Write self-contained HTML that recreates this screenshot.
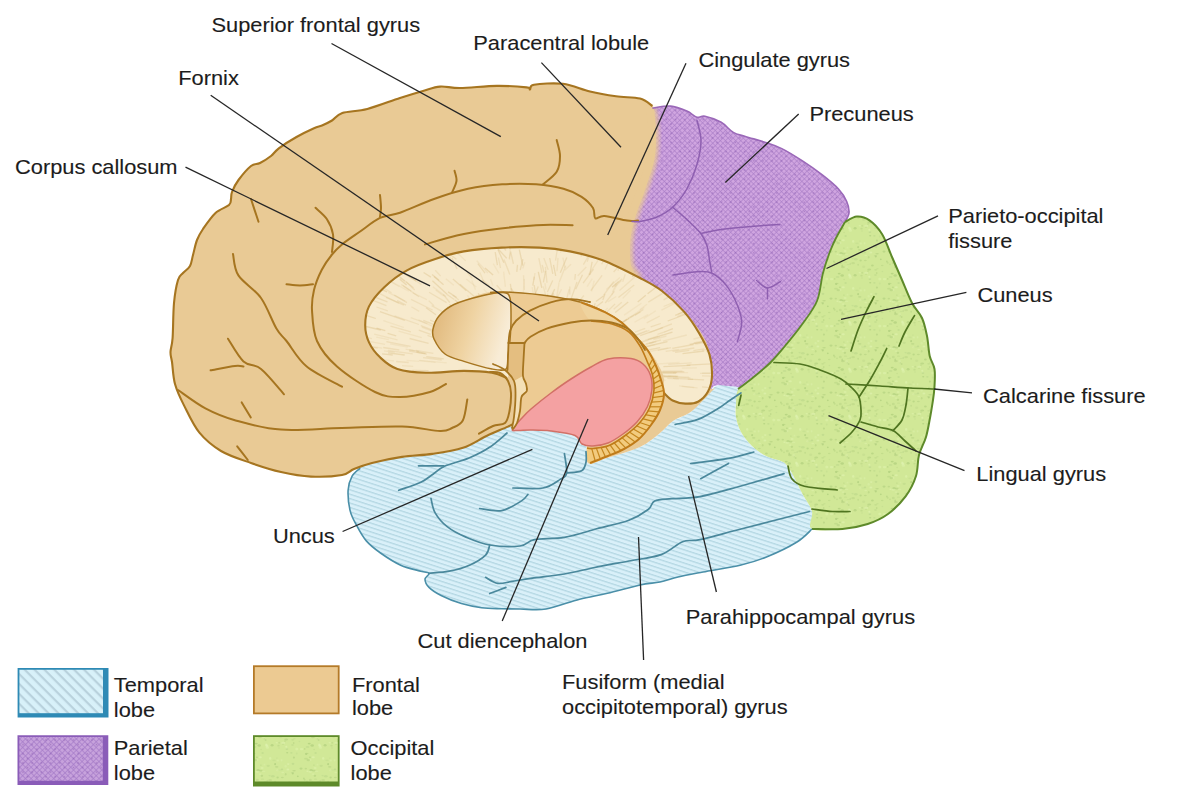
<!DOCTYPE html>
<html><head><meta charset="utf-8"><style>
html,body{margin:0;padding:0;background:#fff;width:1189px;height:791px;overflow:hidden}
svg{display:block}
text{font-family:"Liberation Sans",sans-serif;font-size:21px;fill:#1c1c1c;stroke:#1c1c1c;stroke-width:0.12px}
</style></head><body>
<svg width="1189" height="791" viewBox="0 0 1189 791">
<defs>
<pattern id="bh" patternUnits="userSpaceOnUse" width="4.2" height="4.2" patternTransform="rotate(18)"><rect width="4.2" height="4.2" fill="#D9F0F9"/><rect y="0" width="4.2" height="1.3" fill="#B4D7E3"/></pattern>
<pattern id="bhl" patternUnits="userSpaceOnUse" width="7" height="7" patternTransform="rotate(45)"><rect width="7" height="7" fill="#D8F1F9"/><rect y="0" width="7" height="2.2" fill="#B9D2DD"/></pattern>
<pattern id="phl" patternUnits="userSpaceOnUse" width="4" height="4" patternTransform="rotate(45)"><rect width="4" height="4" fill="#C7A2DC"/><rect width="4" height="1" fill="#A67CC8" opacity="0.7"/><rect width="1" height="4" fill="#A67CC8" opacity="0.7"/></pattern>
<pattern id="ph" patternUnits="userSpaceOnUse" width="3.6" height="3.6" patternTransform="rotate(45)"><rect width="3.6" height="3.6" fill="#D0A5E0"/><rect width="3.6" height="0.9" fill="#A87CC6" opacity="0.65"/><rect width="0.9" height="3.6" fill="#A87CC6" opacity="0.65"/></pattern>
<linearGradient id="ovg" x1="0" y1="0" x2="1" y2="0.3"><stop offset="0" stop-color="#DDB273"/><stop offset="0.55" stop-color="#EFD3A2"/><stop offset="1" stop-color="#F8ECD6"/></linearGradient>
<clipPath id="ccclip"><path d="M507.0,378.0 C504.7,378.3 499.2,374.0 492.0,372.8 C484.8,371.6 475.0,370.9 464.0,370.9 C453.0,370.9 437.1,373.1 426.0,372.8 C414.9,372.5 405.0,371.5 397.4,369.0 C389.8,366.5 385.0,362.0 380.3,357.6 C375.6,353.2 371.5,347.8 369.0,342.4 C366.5,337.0 365.2,331.3 365.2,325.3 C365.2,319.3 365.9,312.7 369.0,306.4 C372.1,300.1 377.7,293.4 384.0,287.4 C390.3,281.4 398.4,275.0 407.0,270.3 C415.6,265.6 425.8,262.1 435.3,259.0 C444.8,255.8 452.7,253.3 463.8,251.4 C474.9,249.5 489.1,248.2 501.7,247.6 C514.3,247.0 528.2,247.0 539.6,247.6 C551.0,248.2 559.6,249.3 570.0,251.4 C580.4,253.5 590.3,255.6 602.0,260.0 C613.7,264.4 630.0,272.8 640.0,278.0 C650.0,283.2 654.7,285.4 662.0,291.0 C669.3,296.6 677.8,304.6 684.0,311.6 C690.2,318.6 694.8,325.8 699.0,333.0 C703.2,340.2 707.3,347.4 709.5,354.6 C711.7,361.8 712.2,369.8 712.0,376.0 C711.8,382.2 710.3,387.3 708.0,391.6 C705.7,395.9 701.8,399.7 698.0,401.7 C694.2,403.7 689.5,403.8 685.3,403.6 C681.1,403.4 676.2,402.3 672.6,400.5 C669.0,398.7 665.2,396.3 663.8,392.9 C662.4,389.5 664.5,383.8 664.0,380.0 C663.5,376.2 663.3,374.7 661.0,370.0 C658.7,365.3 654.2,357.3 650.0,352.0 C645.8,346.7 640.7,342.8 636.0,338.0 C631.3,333.2 627.2,327.3 622.0,323.0 C616.8,318.7 611.8,315.5 605.0,312.0 C598.2,308.5 590.0,304.7 581.0,302.0 C572.0,299.3 562.7,297.7 551.0,296.0 C539.3,294.3 521.2,292.7 511.0,292.0 C500.8,291.3 496.8,291.0 490.0,292.0 C483.2,293.0 476.0,295.9 470.0,298.0 C464.0,300.1 459.2,301.5 454.0,304.5 C448.8,307.5 442.5,311.9 439.0,316.0 C435.5,320.1 433.8,325.2 433.0,329.0 C432.2,332.8 432.0,334.8 434.0,339.0 C436.0,343.2 440.0,350.3 445.0,354.0 C450.0,357.7 456.2,358.5 464.0,361.0 C471.8,363.5 485.0,367.3 492.0,369.0 C499.0,370.7 503.5,369.5 506.0,371.0 C508.5,372.5 509.3,377.7 507.0,378.0Z"/></clipPath>
<clipPath id="gclip"><path d="M845.0,222.0 C848.5,218.4 852.7,216.9 856.8,216.6 C860.9,216.3 865.3,217.5 869.5,220.4 C873.7,223.3 878.2,227.9 882.0,234.0 C885.8,240.1 888.7,249.3 892.0,257.0 C895.3,264.7 898.7,272.3 902.0,280.0 C905.3,287.7 908.7,296.7 912.0,303.0 C915.3,309.3 919.5,312.5 922.0,318.0 C924.5,323.5 925.7,329.7 927.0,336.0 C928.3,342.3 928.5,350.5 929.7,356.0 C931.0,361.5 933.7,363.9 934.5,369.0 C935.3,374.1 934.8,381.3 934.5,386.5 C934.2,391.7 933.8,394.8 933.0,400.0 C932.2,405.2 931.2,411.8 930.0,418.0 C928.8,424.2 927.8,430.8 926.0,437.0 C924.2,443.2 920.7,448.5 919.0,455.0 C917.3,461.5 918.2,469.1 916.0,476.0 C913.8,482.9 910.3,490.1 905.6,496.4 C900.9,502.7 894.3,509.4 888.0,514.0 C881.7,518.6 875.3,521.5 867.7,524.0 C860.1,526.5 851.7,528.2 842.4,529.0 C833.1,529.8 817.1,531.9 812.0,529.0 C806.9,526.1 813.5,517.2 812.0,511.5 C810.5,505.8 805.7,500.1 803.0,495.0 C800.3,489.9 798.2,485.2 796.0,481.0 C793.8,476.8 792.2,473.2 790.0,470.0 C787.8,466.8 787.0,464.3 783.0,462.0 C779.0,459.7 771.2,458.7 766.0,456.0 C760.8,453.3 756.2,450.0 752.0,446.0 C747.8,442.0 743.7,436.8 741.0,432.0 C738.3,427.2 736.8,421.7 736.0,417.0 C735.2,412.3 735.7,408.5 736.0,404.0 C736.3,399.5 735.7,394.0 738.0,390.0 C740.3,386.0 744.7,384.5 750.0,380.0 C755.3,375.5 764.2,368.7 770.0,363.0 C775.8,357.3 779.7,352.4 785.0,346.0 C790.3,339.6 796.7,332.0 802.0,324.5 C807.3,317.0 813.5,309.6 817.0,301.0 C820.5,292.4 820.8,281.2 823.0,273.0 C825.2,264.8 827.8,257.3 830.0,251.5 C832.2,245.7 833.5,242.9 836.0,238.0 C838.5,233.1 841.5,225.6 845.0,222.0Z"/></clipPath>
<filter id="soft" x="-20%" y="-20%" width="140%" height="140%"><feGaussianBlur stdDeviation="2"/></filter>
<pattern id="gsp" patternUnits="userSpaceOnUse" width="53" height="47"><rect width="53" height="47" fill="#D1E897"/><ellipse cx="12.6" cy="25.6" rx="1.2" ry="1.0" fill="#A9C977" opacity="0.51"/><ellipse cx="48.2" cy="22.1" rx="1.5" ry="0.7" fill="#E0F3B0" opacity="0.49"/><ellipse cx="29.1" cy="18.7" rx="1.8" ry="0.8" fill="#B3D07F" opacity="0.60"/><ellipse cx="27.7" cy="34.8" rx="1.6" ry="0.6" fill="#A9C977" opacity="0.41"/><ellipse cx="1.6" cy="40.7" rx="1.4" ry="1.1" fill="#E0F3B0" opacity="0.55"/><ellipse cx="54.6" cy="40.7" rx="1.4" ry="1.1" fill="#E0F3B0" opacity="0.55"/><ellipse cx="48.8" cy="18.6" rx="1.8" ry="0.9" fill="#B3D07F" opacity="0.61"/><ellipse cx="5.2" cy="6.4" rx="1.1" ry="1.3" fill="#E0F3B0" opacity="0.57"/><ellipse cx="45.3" cy="19.8" rx="1.8" ry="1.0" fill="#E0F3B0" opacity="0.50"/><ellipse cx="47.9" cy="32.1" rx="1.9" ry="1.2" fill="#B3D07F" opacity="0.54"/><ellipse cx="17.3" cy="25.5" rx="1.5" ry="0.7" fill="#B3D07F" opacity="0.52"/><ellipse cx="-0.6" cy="12.6" rx="0.9" ry="0.9" fill="#E0F3B0" opacity="0.33"/><ellipse cx="52.4" cy="12.6" rx="0.9" ry="0.9" fill="#E0F3B0" opacity="0.33"/><ellipse cx="42.4" cy="19.3" rx="1.0" ry="0.8" fill="#E0F3B0" opacity="0.61"/><ellipse cx="2.3" cy="28.9" rx="0.9" ry="1.1" fill="#B9D588" opacity="0.49"/><ellipse cx="55.3" cy="28.9" rx="0.9" ry="1.1" fill="#B9D588" opacity="0.49"/><ellipse cx="48.9" cy="13.1" rx="1.1" ry="0.6" fill="#A9C977" opacity="0.33"/><ellipse cx="31.8" cy="1.5" rx="1.0" ry="0.9" fill="#B9D588" opacity="0.35"/><ellipse cx="31.8" cy="48.5" rx="1.0" ry="0.9" fill="#B9D588" opacity="0.35"/><ellipse cx="2.2" cy="40.8" rx="1.2" ry="1.3" fill="#E0F3B0" opacity="0.43"/><ellipse cx="55.2" cy="40.8" rx="1.2" ry="1.3" fill="#E0F3B0" opacity="0.43"/><ellipse cx="46.1" cy="18.2" rx="1.8" ry="1.1" fill="#A9C977" opacity="0.52"/><ellipse cx="49.9" cy="23.8" rx="1.3" ry="1.1" fill="#B3D07F" opacity="0.63"/><ellipse cx="23.2" cy="12.1" rx="1.2" ry="0.8" fill="#E0F3B0" opacity="0.65"/><ellipse cx="16.7" cy="17.7" rx="1.5" ry="0.7" fill="#B9D588" opacity="0.46"/><ellipse cx="36.0" cy="16.6" rx="1.6" ry="1.1" fill="#A9C977" opacity="0.51"/><ellipse cx="-2.4" cy="1.0" rx="1.2" ry="1.0" fill="#B9D588" opacity="0.51"/><ellipse cx="-2.4" cy="48.0" rx="1.2" ry="1.0" fill="#B9D588" opacity="0.51"/><ellipse cx="50.6" cy="1.0" rx="1.2" ry="1.0" fill="#B9D588" opacity="0.51"/><ellipse cx="50.6" cy="48.0" rx="1.2" ry="1.0" fill="#B9D588" opacity="0.51"/><ellipse cx="17.0" cy="17.1" rx="1.2" ry="0.9" fill="#B9D588" opacity="0.41"/><ellipse cx="20.0" cy="36.3" rx="0.8" ry="1.0" fill="#B3D07F" opacity="0.41"/><ellipse cx="11.8" cy="37.8" rx="1.1" ry="0.7" fill="#E0F3B0" opacity="0.53"/><ellipse cx="5.1" cy="28.2" rx="1.9" ry="1.1" fill="#B3D07F" opacity="0.45"/><ellipse cx="45.3" cy="8.0" rx="1.2" ry="1.1" fill="#E0F3B0" opacity="0.39"/><ellipse cx="41.7" cy="1.6" rx="1.9" ry="0.8" fill="#B3D07F" opacity="0.60"/><ellipse cx="41.7" cy="48.6" rx="1.9" ry="0.8" fill="#B3D07F" opacity="0.60"/><ellipse cx="18.0" cy="38.9" rx="0.9" ry="1.0" fill="#B3D07F" opacity="0.45"/><ellipse cx="27.5" cy="39.9" rx="1.4" ry="1.0" fill="#B9D588" opacity="0.45"/><ellipse cx="21.7" cy="43.3" rx="1.0" ry="0.6" fill="#E0F3B0" opacity="0.50"/><ellipse cx="-0.8" cy="33.7" rx="0.8" ry="0.9" fill="#B9D588" opacity="0.49"/><ellipse cx="52.2" cy="33.7" rx="0.8" ry="0.9" fill="#B9D588" opacity="0.49"/><ellipse cx="47.2" cy="40.5" rx="1.8" ry="1.3" fill="#A9C977" opacity="0.58"/><ellipse cx="2.4" cy="42.5" rx="1.6" ry="1.2" fill="#E0F3B0" opacity="0.50"/><ellipse cx="55.4" cy="42.5" rx="1.6" ry="1.2" fill="#E0F3B0" opacity="0.50"/><ellipse cx="0.7" cy="35.0" rx="1.0" ry="0.8" fill="#A9C977" opacity="0.48"/><ellipse cx="53.7" cy="35.0" rx="1.0" ry="0.8" fill="#A9C977" opacity="0.48"/><ellipse cx="21.9" cy="-2.9" rx="1.5" ry="0.8" fill="#B9D588" opacity="0.64"/><ellipse cx="21.9" cy="44.1" rx="1.5" ry="0.8" fill="#B9D588" opacity="0.64"/><ellipse cx="28.7" cy="38.1" rx="0.9" ry="0.8" fill="#A9C977" opacity="0.49"/><ellipse cx="43.3" cy="8.1" rx="1.8" ry="1.2" fill="#B3D07F" opacity="0.59"/><ellipse cx="0.4" cy="29.5" rx="1.8" ry="0.6" fill="#B9D588" opacity="0.39"/><ellipse cx="53.4" cy="29.5" rx="1.8" ry="0.6" fill="#B9D588" opacity="0.39"/><ellipse cx="32.8" cy="24.4" rx="0.9" ry="0.8" fill="#A9C977" opacity="0.60"/><ellipse cx="41.1" cy="2.2" rx="0.9" ry="0.9" fill="#A9C977" opacity="0.60"/><ellipse cx="41.1" cy="49.2" rx="0.9" ry="0.9" fill="#A9C977" opacity="0.60"/><ellipse cx="4.6" cy="23.6" rx="1.2" ry="0.8" fill="#B9D588" opacity="0.44"/><ellipse cx="20.7" cy="14.3" rx="1.1" ry="1.3" fill="#E0F3B0" opacity="0.34"/><ellipse cx="29.4" cy="33.7" rx="1.3" ry="0.7" fill="#B3D07F" opacity="0.32"/><ellipse cx="24.4" cy="30.6" rx="1.4" ry="1.0" fill="#A9C977" opacity="0.52"/><ellipse cx="22.9" cy="17.5" rx="1.4" ry="1.1" fill="#E0F3B0" opacity="0.63"/><ellipse cx="22.2" cy="0.8" rx="1.1" ry="0.8" fill="#A9C977" opacity="0.58"/><ellipse cx="22.2" cy="47.8" rx="1.1" ry="0.8" fill="#A9C977" opacity="0.58"/><ellipse cx="11.9" cy="6.1" rx="0.8" ry="0.8" fill="#B9D588" opacity="0.34"/><ellipse cx="36.6" cy="-2.9" rx="1.7" ry="1.2" fill="#E0F3B0" opacity="0.53"/><ellipse cx="36.6" cy="44.1" rx="1.7" ry="1.2" fill="#E0F3B0" opacity="0.53"/><ellipse cx="38.9" cy="26.5" rx="0.9" ry="1.0" fill="#A9C977" opacity="0.47"/><ellipse cx="12.5" cy="18.3" rx="1.4" ry="1.0" fill="#E0F3B0" opacity="0.36"/><ellipse cx="1.2" cy="39.6" rx="0.9" ry="1.2" fill="#E0F3B0" opacity="0.59"/><ellipse cx="54.2" cy="39.6" rx="0.9" ry="1.2" fill="#E0F3B0" opacity="0.59"/><ellipse cx="-2.5" cy="27.2" rx="1.8" ry="0.6" fill="#B3D07F" opacity="0.34"/><ellipse cx="50.5" cy="27.2" rx="1.8" ry="0.6" fill="#B3D07F" opacity="0.34"/><ellipse cx="39.7" cy="43.9" rx="0.9" ry="0.8" fill="#B3D07F" opacity="0.59"/><ellipse cx="12.8" cy="8.4" rx="1.1" ry="1.0" fill="#E0F3B0" opacity="0.39"/><ellipse cx="31.8" cy="-2.9" rx="1.5" ry="1.3" fill="#E0F3B0" opacity="0.48"/><ellipse cx="31.8" cy="44.1" rx="1.5" ry="1.3" fill="#E0F3B0" opacity="0.48"/><ellipse cx="-1.4" cy="19.4" rx="1.7" ry="0.7" fill="#E0F3B0" opacity="0.35"/><ellipse cx="51.6" cy="19.4" rx="1.7" ry="0.7" fill="#E0F3B0" opacity="0.35"/><ellipse cx="21.3" cy="41.7" rx="1.0" ry="0.9" fill="#E0F3B0" opacity="0.62"/><ellipse cx="27.4" cy="20.8" rx="1.7" ry="0.7" fill="#B9D588" opacity="0.56"/><ellipse cx="7.8" cy="24.2" rx="1.9" ry="1.2" fill="#B9D588" opacity="0.53"/><ellipse cx="45.3" cy="28.0" rx="1.5" ry="1.3" fill="#B3D07F" opacity="0.41"/><ellipse cx="14.2" cy="37.8" rx="1.0" ry="1.0" fill="#B3D07F" opacity="0.41"/><ellipse cx="41.0" cy="6.7" rx="2.0" ry="0.9" fill="#B3D07F" opacity="0.46"/><ellipse cx="44.2" cy="38.6" rx="1.5" ry="0.9" fill="#A9C977" opacity="0.60"/><ellipse cx="21.2" cy="34.5" rx="2.0" ry="0.9" fill="#B3D07F" opacity="0.61"/><ellipse cx="34.4" cy="36.5" rx="0.9" ry="0.8" fill="#B9D588" opacity="0.38"/><ellipse cx="10.1" cy="12.2" rx="1.0" ry="1.1" fill="#A9C977" opacity="0.61"/><ellipse cx="13.5" cy="40.7" rx="1.2" ry="0.9" fill="#A9C977" opacity="0.34"/><ellipse cx="14.0" cy="42.9" rx="0.8" ry="0.9" fill="#B9D588" opacity="0.30"/><ellipse cx="17.7" cy="20.5" rx="1.4" ry="0.7" fill="#E0F3B0" opacity="0.44"/><ellipse cx="28.9" cy="5.6" rx="1.1" ry="1.1" fill="#A9C977" opacity="0.45"/><ellipse cx="28.0" cy="11.8" rx="1.4" ry="1.1" fill="#B9D588" opacity="0.57"/><ellipse cx="15.7" cy="31.8" rx="1.6" ry="1.2" fill="#B9D588" opacity="0.34"/><ellipse cx="-2.9" cy="15.9" rx="1.5" ry="1.0" fill="#E0F3B0" opacity="0.48"/><ellipse cx="50.1" cy="15.9" rx="1.5" ry="1.0" fill="#E0F3B0" opacity="0.48"/><ellipse cx="3.2" cy="13.8" rx="1.7" ry="1.1" fill="#B3D07F" opacity="0.36"/><ellipse cx="47.2" cy="30.8" rx="0.9" ry="1.3" fill="#B3D07F" opacity="0.62"/><ellipse cx="34.2" cy="30.5" rx="1.3" ry="0.8" fill="#B3D07F" opacity="0.46"/><ellipse cx="16.6" cy="8.3" rx="0.9" ry="1.1" fill="#E0F3B0" opacity="0.43"/><ellipse cx="14.1" cy="18.0" rx="1.8" ry="0.6" fill="#B9D588" opacity="0.39"/><ellipse cx="40.8" cy="16.6" rx="1.2" ry="0.9" fill="#A9C977" opacity="0.42"/><ellipse cx="44.9" cy="5.3" rx="1.1" ry="0.7" fill="#A9C977" opacity="0.50"/><ellipse cx="48.2" cy="5.3" rx="1.6" ry="1.0" fill="#E0F3B0" opacity="0.59"/><ellipse cx="39.7" cy="27.8" rx="1.0" ry="0.9" fill="#B3D07F" opacity="0.49"/><ellipse cx="9.0" cy="8.4" rx="1.8" ry="0.9" fill="#B9D588" opacity="0.31"/><ellipse cx="42.6" cy="41.9" rx="1.9" ry="0.9" fill="#B9D588" opacity="0.52"/><ellipse cx="-1.2" cy="32.3" rx="1.2" ry="1.2" fill="#E0F3B0" opacity="0.31"/><ellipse cx="51.8" cy="32.3" rx="1.2" ry="1.2" fill="#E0F3B0" opacity="0.31"/><ellipse cx="10.1" cy="29.8" rx="0.9" ry="1.1" fill="#B3D07F" opacity="0.47"/><ellipse cx="27.8" cy="21.6" rx="1.0" ry="1.0" fill="#A9C977" opacity="0.58"/><ellipse cx="49.1" cy="-2.5" rx="0.9" ry="0.8" fill="#B3D07F" opacity="0.35"/><ellipse cx="49.1" cy="44.5" rx="0.9" ry="0.8" fill="#B3D07F" opacity="0.35"/><ellipse cx="42.0" cy="29.3" rx="0.9" ry="0.9" fill="#B3D07F" opacity="0.48"/><ellipse cx="26.4" cy="0.9" rx="1.2" ry="0.8" fill="#B9D588" opacity="0.54"/><ellipse cx="26.4" cy="47.9" rx="1.2" ry="0.8" fill="#B9D588" opacity="0.54"/><ellipse cx="7.1" cy="40.3" rx="1.5" ry="1.2" fill="#A9C977" opacity="0.56"/><ellipse cx="18.2" cy="37.9" rx="1.9" ry="1.2" fill="#E0F3B0" opacity="0.54"/><ellipse cx="11.7" cy="14.8" rx="1.7" ry="0.9" fill="#B3D07F" opacity="0.55"/><ellipse cx="20.7" cy="22.2" rx="0.9" ry="1.2" fill="#B3D07F" opacity="0.53"/></pattern>
<pattern id="pdots" patternUnits="userSpaceOnUse" width="6.5" height="6.5" patternTransform="rotate(45)"><circle cx="3.25" cy="3.25" r="0.9" fill="#8A5AAE" opacity="0.55"/></pattern>
</defs>
<path d="M652.4,108.1 C659.2,107.1 664.9,105.6 670.6,106.1 C676.3,106.6 682.4,109.2 686.8,111.1 C691.2,112.9 693.9,116.3 696.9,117.2 C699.9,118.1 701.0,115.4 705.0,116.2 C709.0,117.0 716.5,119.6 721.2,122.3 C725.9,125.0 729.3,130.1 733.3,132.4 C737.3,134.8 740.0,134.7 745.4,136.4 C750.8,138.1 759.6,140.5 765.7,142.5 C771.8,144.5 775.7,145.6 781.8,148.6 C787.9,151.6 795.4,156.3 802.1,160.7 C808.9,165.1 816.2,170.2 822.3,174.9 C828.4,179.6 834.5,184.6 838.5,189.0 C842.5,193.4 844.9,197.2 846.6,201.2 C848.4,205.2 849.3,209.5 849.0,213.0 C848.7,216.5 847.2,217.8 845.0,222.0 C842.8,226.2 838.5,233.1 836.0,238.0 C833.5,242.9 832.2,245.7 830.0,251.5 C827.8,257.3 825.2,264.8 823.0,273.0 C820.8,281.2 820.5,292.4 817.0,301.0 C813.5,309.6 807.3,317.0 802.0,324.5 C796.7,332.0 790.3,339.6 785.0,346.0 C779.7,352.4 775.8,357.3 770.0,363.0 C764.2,368.7 755.3,375.7 750.0,380.0 C744.7,384.3 741.8,387.8 738.0,389.0 C734.2,390.2 731.0,387.5 727.0,387.0 C723.0,386.5 718.5,383.8 714.0,386.0 C709.5,388.2 712.3,397.7 700.0,400.0 C687.7,402.3 654.2,416.7 640.0,400.0 C625.8,383.3 619.2,341.7 615.0,300.0 C610.8,258.3 612.5,181.3 615.0,150.0 C617.5,118.7 623.8,119.0 630.0,112.0 C636.2,105.0 645.6,109.1 652.4,108.1Z" fill="url(#ph)"/>
<path d="M652.4,108.1 C659.2,107.1 664.9,105.6 670.6,106.1 C676.3,106.6 682.4,109.2 686.8,111.1 C691.2,112.9 693.9,116.3 696.9,117.2 C699.9,118.1 701.0,115.4 705.0,116.2 C709.0,117.0 716.5,119.6 721.2,122.3 C725.9,125.0 729.3,130.1 733.3,132.4 C737.3,134.8 740.0,134.7 745.4,136.4 C750.8,138.1 759.6,140.5 765.7,142.5 C771.8,144.5 775.7,145.6 781.8,148.6 C787.9,151.6 795.4,156.3 802.1,160.7 C808.9,165.1 816.2,170.2 822.3,174.9 C828.4,179.6 834.5,184.6 838.5,189.0 C842.5,193.4 844.9,197.2 846.6,201.2 C848.4,205.2 849.3,209.5 849.0,213.0 C848.7,216.5 847.2,217.8 845.0,222.0 C842.8,226.2 838.5,233.1 836.0,238.0 C833.5,242.9 832.2,245.7 830.0,251.5 C827.8,257.3 825.2,264.8 823.0,273.0 C820.8,281.2 820.5,292.4 817.0,301.0 C813.5,309.6 807.3,317.0 802.0,324.5 C796.7,332.0 790.3,339.6 785.0,346.0 C779.7,352.4 775.8,357.3 770.0,363.0 C764.2,368.7 755.3,375.7 750.0,380.0 C744.7,384.3 741.8,387.8 738.0,389.0 C734.2,390.2 731.0,387.5 727.0,387.0 C723.0,386.5 718.5,383.8 714.0,386.0 C709.5,388.2 712.3,397.7 700.0,400.0 C687.7,402.3 654.2,416.7 640.0,400.0 C625.8,383.3 619.2,341.7 615.0,300.0 C610.8,258.3 612.5,181.3 615.0,150.0 C617.5,118.7 623.8,119.0 630.0,112.0 C636.2,105.0 645.6,109.1 652.4,108.1Z" fill="url(#pdots)"/>
<path d="M812.0,529.0 C809.5,534.1 804.6,537.3 797.0,542.0 C789.4,546.7 775.8,553.2 766.5,557.0 C757.2,560.8 751.6,562.5 741.0,565.0 C730.4,567.5 713.5,570.0 703.0,572.0 C692.5,574.0 685.2,575.3 678.0,577.0 C670.8,578.7 666.3,580.7 660.0,582.0 C653.7,583.3 648.8,583.1 640.0,585.0 C631.2,586.9 617.5,590.9 607.4,593.3 C597.3,595.7 589.8,596.6 579.6,599.2 C569.4,601.8 555.9,607.4 546.0,609.0 C536.1,610.6 527.4,609.0 520.0,609.0 C512.6,609.0 508.2,608.9 501.8,608.7 C495.4,608.5 488.3,608.6 481.6,607.7 C474.9,606.9 468.1,605.6 461.4,603.6 C454.6,601.6 446.5,598.2 441.1,595.5 C435.7,592.8 431.7,590.1 429.0,587.4 C426.3,584.7 425.0,581.6 425.0,579.3 C425.0,576.9 429.7,574.6 429.0,573.3 C428.3,571.9 425.6,572.6 420.9,571.2 C416.2,569.9 407.4,568.2 400.7,565.2 C394.0,562.2 386.2,557.0 380.5,553.0 C374.8,549.0 370.4,545.6 366.3,540.9 C362.2,536.2 358.9,529.8 356.2,524.7 C353.5,519.7 351.5,516.3 350.1,510.6 C348.8,504.9 347.8,496.0 348.1,490.3 C348.4,484.6 350.1,479.9 352.1,476.2 C354.1,472.5 357.2,470.5 360.2,468.1 C363.2,465.7 363.4,464.0 370.0,462.0 C376.6,460.0 390.0,457.8 400.0,456.0 C410.0,454.2 420.7,452.7 430.0,451.0 C439.3,449.3 447.3,448.5 456.0,446.0 C464.7,443.5 475.0,439.0 482.0,436.0 C489.0,433.0 493.0,429.5 498.0,428.0 C503.0,426.5 505.0,426.7 512.0,427.0 C519.0,427.3 529.5,428.8 540.0,430.0 C550.5,431.2 567.3,431.3 575.0,434.0 C582.7,436.7 583.8,441.2 586.0,446.0 C588.2,450.8 584.5,461.0 588.0,463.0 C591.5,465.0 598.3,460.7 607.0,458.0 C615.7,455.3 631.2,451.2 640.0,447.0 C648.8,442.8 654.5,437.3 660.0,433.0 C665.5,428.7 667.7,424.7 673.0,421.0 C678.3,417.3 685.3,416.5 692.0,411.0 C698.7,405.5 707.2,392.2 713.0,388.0 C718.8,383.8 722.5,385.8 727.0,386.0 C731.5,386.2 738.5,386.0 740.0,389.0 C741.5,392.0 736.7,399.3 736.0,404.0 C735.3,408.7 735.2,412.3 736.0,417.0 C736.8,421.7 738.3,427.2 741.0,432.0 C743.7,436.8 747.8,442.0 752.0,446.0 C756.2,450.0 760.8,453.3 766.0,456.0 C771.2,458.7 779.0,459.7 783.0,462.0 C787.0,464.3 787.8,466.8 790.0,470.0 C792.2,473.2 793.8,476.8 796.0,481.0 C798.2,485.2 800.3,489.9 803.0,495.0 C805.7,500.1 810.5,505.8 812.0,511.5 C813.5,517.2 814.5,523.9 812.0,529.0Z" fill="url(#bh)"/>
<path d="M845.0,222.0 C848.5,218.4 852.7,216.9 856.8,216.6 C860.9,216.3 865.3,217.5 869.5,220.4 C873.7,223.3 878.2,227.9 882.0,234.0 C885.8,240.1 888.7,249.3 892.0,257.0 C895.3,264.7 898.7,272.3 902.0,280.0 C905.3,287.7 908.7,296.7 912.0,303.0 C915.3,309.3 919.5,312.5 922.0,318.0 C924.5,323.5 925.7,329.7 927.0,336.0 C928.3,342.3 928.5,350.5 929.7,356.0 C931.0,361.5 933.7,363.9 934.5,369.0 C935.3,374.1 934.8,381.3 934.5,386.5 C934.2,391.7 933.8,394.8 933.0,400.0 C932.2,405.2 931.2,411.8 930.0,418.0 C928.8,424.2 927.8,430.8 926.0,437.0 C924.2,443.2 920.7,448.5 919.0,455.0 C917.3,461.5 918.2,469.1 916.0,476.0 C913.8,482.9 910.3,490.1 905.6,496.4 C900.9,502.7 894.3,509.4 888.0,514.0 C881.7,518.6 875.3,521.5 867.7,524.0 C860.1,526.5 851.7,528.2 842.4,529.0 C833.1,529.8 817.1,531.9 812.0,529.0 C806.9,526.1 813.5,517.2 812.0,511.5 C810.5,505.8 805.7,500.1 803.0,495.0 C800.3,489.9 798.2,485.2 796.0,481.0 C793.8,476.8 792.2,473.2 790.0,470.0 C787.8,466.8 787.0,464.3 783.0,462.0 C779.0,459.7 771.2,458.7 766.0,456.0 C760.8,453.3 756.2,450.0 752.0,446.0 C747.8,442.0 743.7,436.8 741.0,432.0 C738.3,427.2 736.8,421.7 736.0,417.0 C735.2,412.3 735.7,408.5 736.0,404.0 C736.3,399.5 735.7,394.0 738.0,390.0 C740.3,386.0 744.7,384.5 750.0,380.0 C755.3,375.5 764.2,368.7 770.0,363.0 C775.8,357.3 779.7,352.4 785.0,346.0 C790.3,339.6 796.7,332.0 802.0,324.5 C807.3,317.0 813.5,309.6 817.0,301.0 C820.5,292.4 820.8,281.2 823.0,273.0 C825.2,264.8 827.8,257.3 830.0,251.5 C832.2,245.7 833.5,242.9 836.0,238.0 C838.5,233.1 841.5,225.6 845.0,222.0Z" fill="url(#gsp)"/>
<path d="M520.0,420.5 C514.7,420.8 513.5,424.1 508.0,426.6 C502.5,429.1 494.5,432.2 487.0,435.7 C479.5,439.2 472.1,444.8 463.0,447.8 C453.9,450.8 442.7,452.4 432.5,453.9 C422.3,455.4 412.1,455.4 402.0,456.9 C391.9,458.4 380.0,461.0 372.0,463.0 C364.0,465.0 359.0,467.0 354.0,469.0 C349.0,471.0 349.2,473.7 342.0,475.0 C334.8,476.3 321.2,477.1 311.0,476.6 C300.8,476.1 291.0,474.3 281.0,472.0 C271.0,469.7 261.0,466.5 251.0,463.0 C241.0,459.5 229.6,456.1 221.0,451.0 C212.4,445.9 205.6,440.3 199.4,432.7 C193.2,425.1 188.1,413.5 184.0,405.4 C179.9,397.3 177.0,391.2 175.0,384.0 C173.0,376.8 172.8,367.3 172.0,362.0 C171.2,356.7 170.4,356.0 170.5,352.0 C170.6,348.0 172.0,346.2 172.6,338.0 C173.2,329.8 173.1,312.7 174.0,303.0 C174.9,293.3 176.5,285.0 178.0,280.0 C179.5,275.0 181.0,275.3 183.0,273.0 C185.0,270.7 188.3,269.0 190.0,266.0 C191.7,263.0 191.8,259.3 193.0,255.0 C194.2,250.7 195.3,244.3 197.0,240.0 C198.7,235.7 199.9,233.5 203.0,229.0 C206.1,224.5 211.2,217.0 215.5,213.0 C219.8,209.0 226.4,207.3 229.0,205.0 C231.6,202.7 230.5,201.2 231.0,199.0 C231.5,196.8 230.8,195.2 232.0,192.0 C233.2,188.8 235.3,184.3 238.5,180.0 C241.7,175.7 247.4,168.8 251.0,166.0 C254.6,163.2 256.7,164.7 260.0,163.0 C263.3,161.3 267.9,158.4 271.0,156.0 C274.1,153.6 274.6,151.5 278.8,148.3 C283.1,145.1 290.6,140.3 296.5,137.0 C302.4,133.7 309.8,130.2 314.0,128.3 C318.2,126.4 319.0,126.8 322.0,125.5 C325.0,124.2 328.6,122.6 332.0,120.5 C335.4,118.4 336.4,115.0 342.3,113.1 C348.2,111.2 357.7,111.5 367.3,109.0 C376.9,106.5 390.7,101.0 400.0,98.0 C409.3,95.0 416.3,92.9 423.0,91.0 C429.7,89.1 433.8,87.1 440.0,86.6 C446.2,86.1 450.5,88.1 460.0,88.0 C469.5,87.9 485.9,86.0 497.0,85.9 C508.1,85.8 521.1,86.8 526.6,87.4 C532.1,88.0 528.8,89.9 530.0,89.5 C531.2,89.1 528.5,85.8 534.0,84.8 C539.5,83.8 553.7,82.7 563.0,83.8 C572.3,84.9 581.2,89.4 590.0,91.5 C598.8,93.6 607.7,95.1 616.0,96.3 C624.3,97.5 633.9,96.9 640.0,98.5 C646.1,100.1 650.0,102.8 652.5,106.0 C655.0,109.2 654.4,112.3 655.0,118.0 C655.6,123.7 656.2,132.8 656.0,140.0 C655.8,147.2 655.8,152.7 654.0,161.0 C652.2,169.3 648.0,181.0 645.0,190.0 C642.0,199.0 638.3,207.5 636.0,215.0 C633.7,222.5 632.0,228.3 631.0,235.0 C630.0,241.7 629.8,249.5 630.0,255.0 C630.2,260.5 630.3,264.2 632.0,268.0 C633.7,271.8 635.0,274.2 640.0,278.0 C645.0,281.8 654.3,285.2 662.0,291.0 C669.7,296.8 679.2,305.5 686.0,313.0 C692.8,320.5 699.0,329.2 703.0,336.0 C707.0,342.8 708.3,347.8 710.0,354.0 C711.7,360.2 713.0,367.3 713.0,373.0 C713.0,378.7 709.5,385.5 710.0,388.0 C710.5,390.5 715.5,387.7 716.0,388.0 C716.5,388.3 717.0,386.2 713.0,390.0 C709.0,393.8 698.7,405.8 692.0,411.0 C685.3,416.2 678.3,417.3 673.0,421.0 C667.7,424.7 665.5,428.7 660.0,433.0 C654.5,437.3 648.8,442.8 640.0,447.0 C631.2,451.2 615.7,455.3 607.0,458.0 C598.3,460.7 591.5,466.0 588.0,463.0 C584.5,460.0 588.2,445.8 586.0,440.0 C583.8,434.2 582.7,430.5 575.0,428.0 C567.3,425.5 549.2,426.2 540.0,425.0 C530.8,423.8 525.3,420.2 520.0,420.5Z" fill="#E9CA95"/>
<path d="M653.0,108.0 C653.3,109.7 654.5,112.7 655.0,118.0 C655.5,123.3 656.2,132.8 656.0,140.0 C655.8,147.2 655.8,152.7 654.0,161.0 C652.2,169.3 648.0,181.0 645.0,190.0 C642.0,199.0 638.3,207.5 636.0,215.0 C633.7,222.5 632.0,228.3 631.0,235.0 C630.0,241.7 629.8,249.5 630.0,255.0 C630.2,260.5 630.3,264.2 632.0,268.0 C633.7,271.8 638.7,276.3 640.0,278.0" fill="none" stroke="#E9CA95" stroke-width="5" filter="url(#soft)"/>
<path d="M652.4,108.1 C655.4,107.8 664.9,105.6 670.6,106.1 C676.3,106.6 682.4,109.2 686.8,111.1 C691.2,112.9 693.9,116.3 696.9,117.2 C699.9,118.1 701.0,115.4 705.0,116.2 C709.0,117.0 716.5,119.6 721.2,122.3 C725.9,125.0 729.3,130.1 733.3,132.4 C737.3,134.8 740.0,134.7 745.4,136.4 C750.8,138.1 759.6,140.5 765.7,142.5 C771.8,144.5 775.7,145.6 781.8,148.6 C787.9,151.6 795.4,156.3 802.1,160.7 C808.9,165.1 816.2,170.2 822.3,174.9 C828.4,179.6 834.5,184.6 838.5,189.0 C842.5,193.4 844.9,197.2 846.6,201.2 C848.4,205.2 849.3,209.5 849.0,213.0 C848.7,216.5 845.7,220.5 845.0,222.0" fill="none" stroke="#9A68B8" stroke-width="1.6"/>
<path d="M845.0,222.0 C847.0,221.1 852.7,216.9 856.8,216.6 C860.9,216.3 865.3,217.5 869.5,220.4 C873.7,223.3 878.2,227.9 882.0,234.0 C885.8,240.1 888.7,249.3 892.0,257.0 C895.3,264.7 898.7,272.3 902.0,280.0 C905.3,287.7 908.7,296.7 912.0,303.0 C915.3,309.3 919.5,312.5 922.0,318.0 C924.5,323.5 925.7,329.7 927.0,336.0 C928.3,342.3 928.5,350.5 929.7,356.0 C931.0,361.5 933.7,363.9 934.5,369.0 C935.3,374.1 934.8,381.3 934.5,386.5 C934.2,391.7 933.8,394.8 933.0,400.0 C932.2,405.2 931.2,411.8 930.0,418.0 C928.8,424.2 927.8,430.8 926.0,437.0 C924.2,443.2 920.7,448.5 919.0,455.0 C917.3,461.5 918.2,469.1 916.0,476.0 C913.8,482.9 910.3,490.1 905.6,496.4 C900.9,502.7 894.3,509.4 888.0,514.0 C881.7,518.6 875.3,521.5 867.7,524.0 C860.1,526.5 851.7,528.2 842.4,529.0 C833.1,529.8 817.1,529.0 812.0,529.0" fill="none" stroke="#5E8A2A" stroke-width="2"/>
<path d="M845.0,222.0 C843.5,224.7 838.5,233.1 836.0,238.0 C833.5,242.9 832.2,245.7 830.0,251.5 C827.8,257.3 825.2,264.8 823.0,273.0 C820.8,281.2 820.5,292.4 817.0,301.0 C813.5,309.6 807.3,317.0 802.0,324.5 C796.7,332.0 790.3,339.6 785.0,346.0 C779.7,352.4 775.8,357.3 770.0,363.0 C764.2,368.7 755.3,375.7 750.0,380.0 C744.7,384.3 740.0,387.5 738.0,389.0" fill="none" stroke="#5E8A2A" stroke-width="1.8"/>
<path d="M812.0,529.0 C809.5,531.2 804.6,537.3 797.0,542.0 C789.4,546.7 775.8,553.2 766.5,557.0 C757.2,560.8 751.6,562.5 741.0,565.0 C730.4,567.5 713.5,570.0 703.0,572.0 C692.5,574.0 685.2,575.3 678.0,577.0 C670.8,578.7 666.3,580.7 660.0,582.0 C653.7,583.3 648.8,583.1 640.0,585.0 C631.2,586.9 617.5,590.9 607.4,593.3 C597.3,595.7 589.8,596.6 579.6,599.2 C569.4,601.8 555.9,607.4 546.0,609.0 C536.1,610.6 527.4,609.0 520.0,609.0 C512.6,609.0 508.2,608.9 501.8,608.7 C495.4,608.5 488.3,608.6 481.6,607.7 C474.9,606.9 468.1,605.6 461.4,603.6 C454.6,601.6 446.5,598.2 441.1,595.5 C435.7,592.8 431.7,590.1 429.0,587.4 C426.3,584.7 425.0,581.6 425.0,579.3 C425.0,576.9 429.7,574.6 429.0,573.3 C428.3,571.9 425.6,572.6 420.9,571.2 C416.2,569.9 407.4,568.2 400.7,565.2 C394.0,562.2 386.2,557.0 380.5,553.0 C374.8,549.0 370.4,545.6 366.3,540.9 C362.2,536.2 358.9,529.8 356.2,524.7 C353.5,519.7 351.5,516.3 350.1,510.6 C348.8,504.9 347.8,496.0 348.1,490.3 C348.4,484.6 350.1,479.9 352.1,476.2 C354.1,472.5 358.9,469.5 360.2,468.1" fill="none" stroke="#4A8FA8" stroke-width="1.6"/>
<path d="M520.0,420.5 C518.0,421.5 513.5,424.1 508.0,426.6 C502.5,429.1 494.5,432.2 487.0,435.7 C479.5,439.2 472.1,444.8 463.0,447.8 C453.9,450.8 442.7,452.4 432.5,453.9 C422.3,455.4 412.1,455.4 402.0,456.9 C391.9,458.4 380.0,461.0 372.0,463.0 C364.0,465.0 359.0,467.0 354.0,469.0 C349.0,471.0 349.2,473.7 342.0,475.0 C334.8,476.3 321.2,477.1 311.0,476.6 C300.8,476.1 291.0,474.3 281.0,472.0 C271.0,469.7 261.0,466.5 251.0,463.0 C241.0,459.5 229.6,456.1 221.0,451.0 C212.4,445.9 205.6,440.3 199.4,432.7 C193.2,425.1 188.1,413.5 184.0,405.4 C179.9,397.3 177.0,391.2 175.0,384.0 C173.0,376.8 172.8,367.3 172.0,362.0 C171.2,356.7 170.4,356.0 170.5,352.0 C170.6,348.0 172.0,346.2 172.6,338.0 C173.2,329.8 173.1,312.7 174.0,303.0 C174.9,293.3 176.5,285.0 178.0,280.0 C179.5,275.0 181.0,275.3 183.0,273.0 C185.0,270.7 188.3,269.0 190.0,266.0 C191.7,263.0 191.8,259.3 193.0,255.0 C194.2,250.7 195.3,244.3 197.0,240.0 C198.7,235.7 199.9,233.5 203.0,229.0 C206.1,224.5 211.2,217.0 215.5,213.0 C219.8,209.0 226.4,207.3 229.0,205.0 C231.6,202.7 230.5,201.2 231.0,199.0 C231.5,196.8 230.8,195.2 232.0,192.0 C233.2,188.8 235.3,184.3 238.5,180.0 C241.7,175.7 247.4,168.8 251.0,166.0 C254.6,163.2 256.7,164.7 260.0,163.0 C263.3,161.3 267.9,158.4 271.0,156.0 C274.1,153.6 274.6,151.5 278.8,148.3 C283.1,145.1 290.6,140.3 296.5,137.0 C302.4,133.7 309.8,130.2 314.0,128.3 C318.2,126.4 319.0,126.8 322.0,125.5 C325.0,124.2 328.6,122.6 332.0,120.5 C335.4,118.4 336.4,115.0 342.3,113.1 C348.2,111.2 357.7,111.5 367.3,109.0 C376.9,106.5 390.7,101.0 400.0,98.0 C409.3,95.0 416.3,92.9 423.0,91.0 C429.7,89.1 433.8,87.1 440.0,86.6 C446.2,86.1 450.5,88.1 460.0,88.0 C469.5,87.9 485.9,86.0 497.0,85.9 C508.1,85.8 521.1,86.8 526.6,87.4 C532.1,88.0 528.8,89.9 530.0,89.5 C531.2,89.1 528.5,85.8 534.0,84.8 C539.5,83.8 553.7,82.7 563.0,83.8 C572.3,84.9 581.2,89.4 590.0,91.5 C598.8,93.6 607.7,95.1 616.0,96.3 C624.3,97.5 633.9,96.9 640.0,98.5 C646.1,100.1 650.4,104.8 652.5,106.0" fill="none" stroke="#A67520" stroke-width="2.1"/>
<path d="M507.0,378.0 C504.7,378.3 499.2,374.0 492.0,372.8 C484.8,371.6 475.0,370.9 464.0,370.9 C453.0,370.9 437.1,373.1 426.0,372.8 C414.9,372.5 405.0,371.5 397.4,369.0 C389.8,366.5 385.0,362.0 380.3,357.6 C375.6,353.2 371.5,347.8 369.0,342.4 C366.5,337.0 365.2,331.3 365.2,325.3 C365.2,319.3 365.9,312.7 369.0,306.4 C372.1,300.1 377.7,293.4 384.0,287.4 C390.3,281.4 398.4,275.0 407.0,270.3 C415.6,265.6 425.8,262.1 435.3,259.0 C444.8,255.8 452.7,253.3 463.8,251.4 C474.9,249.5 489.1,248.2 501.7,247.6 C514.3,247.0 528.2,247.0 539.6,247.6 C551.0,248.2 559.6,249.3 570.0,251.4 C580.4,253.5 590.3,255.6 602.0,260.0 C613.7,264.4 630.0,272.8 640.0,278.0 C650.0,283.2 654.7,285.4 662.0,291.0 C669.3,296.6 677.8,304.6 684.0,311.6 C690.2,318.6 694.8,325.8 699.0,333.0 C703.2,340.2 707.3,347.4 709.5,354.6 C711.7,361.8 712.2,369.8 712.0,376.0 C711.8,382.2 710.3,387.3 708.0,391.6 C705.7,395.9 701.8,399.7 698.0,401.7 C694.2,403.7 689.5,403.8 685.3,403.6 C681.1,403.4 676.2,402.3 672.6,400.5 C669.0,398.7 665.2,396.3 663.8,392.9 C662.4,389.5 664.5,383.8 664.0,380.0 C663.5,376.2 663.3,374.7 661.0,370.0 C658.7,365.3 654.2,357.3 650.0,352.0 C645.8,346.7 640.7,342.8 636.0,338.0 C631.3,333.2 627.2,327.3 622.0,323.0 C616.8,318.7 611.8,315.5 605.0,312.0 C598.2,308.5 590.0,304.7 581.0,302.0 C572.0,299.3 562.7,297.7 551.0,296.0 C539.3,294.3 521.2,292.7 511.0,292.0 C500.8,291.3 496.8,291.0 490.0,292.0 C483.2,293.0 476.0,295.9 470.0,298.0 C464.0,300.1 459.2,301.5 454.0,304.5 C448.8,307.5 442.5,311.9 439.0,316.0 C435.5,320.1 433.8,325.2 433.0,329.0 C432.2,332.8 432.0,334.8 434.0,339.0 C436.0,343.2 440.0,350.3 445.0,354.0 C450.0,357.7 456.2,358.5 464.0,361.0 C471.8,363.5 485.0,367.3 492.0,369.0 C499.0,370.7 503.5,369.5 506.0,371.0 C508.5,372.5 509.3,377.7 507.0,378.0Z" fill="#F7EACD"/>
<g clip-path="url(#ccclip)"><line x1="479.8" y1="312.6" x2="465.6" y2="301.5" stroke="#D4B577" stroke-width="1.3" opacity="0.24"/><line x1="499.4" y1="315.3" x2="488.8" y2="304.7" stroke="#D4B577" stroke-width="1.3" opacity="0.22"/><line x1="435.5" y1="362.3" x2="418.9" y2="360.7" stroke="#D4B577" stroke-width="1.3" opacity="0.15"/><line x1="398.8" y1="303.1" x2="378.3" y2="292.8" stroke="#D4B577" stroke-width="1.3" opacity="0.21"/><line x1="639.1" y1="377.7" x2="664.4" y2="379.2" stroke="#D4B577" stroke-width="1.3" opacity="0.15"/><line x1="410.6" y1="346.3" x2="386.4" y2="341.6" stroke="#D4B577" stroke-width="1.3" opacity="0.25"/><line x1="611.6" y1="294.7" x2="617.4" y2="284.4" stroke="#D4B577" stroke-width="1.3" opacity="0.13"/><line x1="386.4" y1="305.7" x2="371.0" y2="299.6" stroke="#D4B577" stroke-width="1.3" opacity="0.25"/><line x1="524.4" y1="289.9" x2="523.5" y2="275.3" stroke="#D4B577" stroke-width="1.3" opacity="0.18"/><line x1="588.6" y1="274.6" x2="598.6" y2="259.6" stroke="#D4B577" stroke-width="1.3" opacity="0.19"/><line x1="648.8" y1="379.2" x2="665.6" y2="380.3" stroke="#D4B577" stroke-width="1.3" opacity="0.15"/><line x1="540.6" y1="311.6" x2="542.6" y2="298.3" stroke="#D4B577" stroke-width="1.3" opacity="0.25"/><line x1="672.5" y1="351.3" x2="694.3" y2="348.0" stroke="#D4B577" stroke-width="1.3" opacity="0.25"/><line x1="517.9" y1="243.9" x2="514.7" y2="227.5" stroke="#D4B577" stroke-width="1.3" opacity="0.27"/><line x1="350.5" y1="358.1" x2="330.2" y2="356.5" stroke="#D4B577" stroke-width="1.3" opacity="0.31"/><line x1="446.6" y1="302.6" x2="429.1" y2="292.3" stroke="#D4B577" stroke-width="1.3" opacity="0.23"/><line x1="443.3" y1="340.8" x2="435.0" y2="337.8" stroke="#D4B577" stroke-width="1.3" opacity="0.15"/><line x1="432.6" y1="310.0" x2="411.1" y2="299.3" stroke="#D4B577" stroke-width="1.3" opacity="0.22"/><line x1="585.5" y1="242.4" x2="595.8" y2="227.7" stroke="#D4B577" stroke-width="1.3" opacity="0.18"/><line x1="505.4" y1="286.9" x2="503.6" y2="271.6" stroke="#D4B577" stroke-width="1.3" opacity="0.15"/><line x1="430.7" y1="334.3" x2="418.8" y2="330.2" stroke="#D4B577" stroke-width="1.3" opacity="0.26"/><line x1="475.3" y1="330.6" x2="462.8" y2="323.0" stroke="#D4B577" stroke-width="1.3" opacity="0.25"/><line x1="729.3" y1="373.7" x2="748.2" y2="373.9" stroke="#D4B577" stroke-width="1.3" opacity="0.28"/><line x1="322.5" y1="359.1" x2="299.4" y2="357.7" stroke="#D4B577" stroke-width="1.3" opacity="0.30"/><line x1="492.9" y1="285.6" x2="490.5" y2="279.1" stroke="#D4B577" stroke-width="1.3" opacity="0.13"/><line x1="419.1" y1="361.4" x2="406.7" y2="360.3" stroke="#D4B577" stroke-width="1.3" opacity="0.13"/><line x1="426.3" y1="378.0" x2="415.3" y2="378.6" stroke="#D4B577" stroke-width="1.3" opacity="0.13"/><line x1="713.0" y1="344.6" x2="723.9" y2="342.7" stroke="#D4B577" stroke-width="1.3" opacity="0.20"/><line x1="495.2" y1="310.3" x2="488.7" y2="296.3" stroke="#D4B577" stroke-width="1.3" opacity="0.23"/><line x1="538.8" y1="307.7" x2="537.6" y2="300.8" stroke="#D4B577" stroke-width="1.3" opacity="0.18"/><line x1="646.0" y1="343.9" x2="656.3" y2="341.5" stroke="#D4B577" stroke-width="1.3" opacity="0.24"/><line x1="385.3" y1="330.6" x2="376.5" y2="328.2" stroke="#D4B577" stroke-width="1.3" opacity="0.35"/><line x1="722.1" y1="338.6" x2="735.2" y2="336.1" stroke="#D4B577" stroke-width="1.3" opacity="0.16"/><line x1="677.9" y1="314.0" x2="696.4" y2="305.7" stroke="#D4B577" stroke-width="1.3" opacity="0.17"/><line x1="745.7" y1="308.4" x2="770.3" y2="301.5" stroke="#D4B577" stroke-width="1.3" opacity="0.31"/><line x1="634.5" y1="322.2" x2="648.0" y2="314.6" stroke="#D4B577" stroke-width="1.3" opacity="0.13"/><line x1="408.0" y1="371.4" x2="393.9" y2="371.3" stroke="#D4B577" stroke-width="1.3" opacity="0.34"/><line x1="509.7" y1="236.2" x2="512.7" y2="219.3" stroke="#D4B577" stroke-width="1.3" opacity="0.20"/><line x1="441.8" y1="325.0" x2="430.1" y2="320.1" stroke="#D4B577" stroke-width="1.3" opacity="0.26"/><line x1="747.4" y1="350.9" x2="765.7" y2="349.0" stroke="#D4B577" stroke-width="1.3" opacity="0.30"/><line x1="358.6" y1="349.3" x2="333.6" y2="346.1" stroke="#D4B577" stroke-width="1.3" opacity="0.29"/><line x1="536.3" y1="299.8" x2="534.2" y2="285.1" stroke="#D4B577" stroke-width="1.3" opacity="0.30"/><line x1="687.8" y1="379.1" x2="704.1" y2="379.9" stroke="#D4B577" stroke-width="1.3" opacity="0.29"/><line x1="442.4" y1="340.0" x2="433.1" y2="336.5" stroke="#D4B577" stroke-width="1.3" opacity="0.31"/><line x1="349.0" y1="321.1" x2="324.6" y2="314.4" stroke="#D4B577" stroke-width="1.3" opacity="0.20"/><line x1="563.1" y1="305.3" x2="568.4" y2="299.6" stroke="#D4B577" stroke-width="1.3" opacity="0.27"/><line x1="569.8" y1="236.4" x2="577.5" y2="225.9" stroke="#D4B577" stroke-width="1.3" opacity="0.31"/><line x1="436.5" y1="325.7" x2="423.3" y2="320.3" stroke="#D4B577" stroke-width="1.3" opacity="0.25"/><line x1="434.0" y1="305.7" x2="428.7" y2="300.6" stroke="#D4B577" stroke-width="1.3" opacity="0.20"/><line x1="522.8" y1="265.6" x2="519.3" y2="249.7" stroke="#D4B577" stroke-width="1.3" opacity="0.33"/><line x1="548.2" y1="269.7" x2="543.8" y2="258.0" stroke="#D4B577" stroke-width="1.3" opacity="0.22"/><line x1="459.6" y1="342.7" x2="437.6" y2="335.2" stroke="#D4B577" stroke-width="1.3" opacity="0.23"/><line x1="663.6" y1="299.9" x2="674.9" y2="293.4" stroke="#D4B577" stroke-width="1.3" opacity="0.25"/><line x1="631.4" y1="336.9" x2="647.0" y2="330.5" stroke="#D4B577" stroke-width="1.3" opacity="0.18"/><line x1="675.2" y1="315.3" x2="693.1" y2="308.4" stroke="#D4B577" stroke-width="1.3" opacity="0.33"/><line x1="513.4" y1="263.8" x2="510.8" y2="252.5" stroke="#D4B577" stroke-width="1.3" opacity="0.28"/><line x1="520.2" y1="270.1" x2="522.9" y2="259.1" stroke="#D4B577" stroke-width="1.3" opacity="0.28"/><line x1="757.7" y1="338.5" x2="771.6" y2="336.4" stroke="#D4B577" stroke-width="1.3" opacity="0.34"/><line x1="644.5" y1="347.1" x2="655.2" y2="344.6" stroke="#D4B577" stroke-width="1.3" opacity="0.14"/><line x1="463.2" y1="329.7" x2="448.5" y2="320.8" stroke="#D4B577" stroke-width="1.3" opacity="0.33"/><line x1="365.3" y1="321.8" x2="343.9" y2="316.2" stroke="#D4B577" stroke-width="1.3" opacity="0.32"/><line x1="663.4" y1="376.9" x2="690.4" y2="377.9" stroke="#D4B577" stroke-width="1.3" opacity="0.23"/><line x1="747.1" y1="389.9" x2="759.4" y2="390.9" stroke="#D4B577" stroke-width="1.3" opacity="0.24"/><line x1="481.9" y1="307.4" x2="476.1" y2="299.3" stroke="#D4B577" stroke-width="1.3" opacity="0.12"/><line x1="574.8" y1="279.8" x2="575.4" y2="274.0" stroke="#D4B577" stroke-width="1.3" opacity="0.26"/><line x1="548.7" y1="309.7" x2="553.3" y2="292.9" stroke="#D4B577" stroke-width="1.3" opacity="0.34"/><line x1="414.6" y1="350.8" x2="405.6" y2="349.2" stroke="#D4B577" stroke-width="1.3" opacity="0.18"/><line x1="397.5" y1="339.8" x2="374.1" y2="334.2" stroke="#D4B577" stroke-width="1.3" opacity="0.18"/><line x1="338.1" y1="316.6" x2="321.1" y2="311.6" stroke="#D4B577" stroke-width="1.3" opacity="0.14"/><line x1="352.1" y1="359.5" x2="334.5" y2="358.3" stroke="#D4B577" stroke-width="1.3" opacity="0.34"/><line x1="638.4" y1="261.9" x2="647.6" y2="256.1" stroke="#D4B577" stroke-width="1.3" opacity="0.14"/><line x1="689.7" y1="344.4" x2="704.8" y2="341.6" stroke="#D4B577" stroke-width="1.3" opacity="0.33"/><line x1="464.6" y1="322.0" x2="450.2" y2="313.5" stroke="#D4B577" stroke-width="1.3" opacity="0.15"/><line x1="450.5" y1="344.7" x2="438.2" y2="341.1" stroke="#D4B577" stroke-width="1.3" opacity="0.19"/><line x1="646.7" y1="322.9" x2="659.8" y2="316.0" stroke="#D4B577" stroke-width="1.3" opacity="0.20"/><line x1="412.1" y1="374.0" x2="402.5" y2="374.1" stroke="#D4B577" stroke-width="1.3" opacity="0.25"/><line x1="404.9" y1="320.4" x2="380.0" y2="311.7" stroke="#D4B577" stroke-width="1.3" opacity="0.31"/><line x1="509.8" y1="274.4" x2="504.0" y2="259.5" stroke="#D4B577" stroke-width="1.3" opacity="0.24"/><line x1="685.1" y1="262.6" x2="698.8" y2="255.1" stroke="#D4B577" stroke-width="1.3" opacity="0.28"/><line x1="612.5" y1="291.9" x2="616.2" y2="283.4" stroke="#D4B577" stroke-width="1.3" opacity="0.15"/><line x1="346.0" y1="353.6" x2="331.5" y2="352.3" stroke="#D4B577" stroke-width="1.3" opacity="0.14"/><line x1="740.3" y1="325.0" x2="759.5" y2="320.2" stroke="#D4B577" stroke-width="1.3" opacity="0.18"/><line x1="443.6" y1="296.0" x2="435.7" y2="290.1" stroke="#D4B577" stroke-width="1.3" opacity="0.18"/><line x1="768.5" y1="378.2" x2="788.1" y2="378.8" stroke="#D4B577" stroke-width="1.3" opacity="0.34"/><line x1="458.9" y1="300.0" x2="452.7" y2="295.3" stroke="#D4B577" stroke-width="1.3" opacity="0.23"/><line x1="546.4" y1="297.9" x2="543.3" y2="286.5" stroke="#D4B577" stroke-width="1.3" opacity="0.18"/><line x1="394.8" y1="352.3" x2="384.0" y2="350.9" stroke="#D4B577" stroke-width="1.3" opacity="0.19"/><line x1="407.0" y1="302.6" x2="394.3" y2="295.0" stroke="#D4B577" stroke-width="1.3" opacity="0.27"/><line x1="691.5" y1="277.9" x2="701.3" y2="270.7" stroke="#D4B577" stroke-width="1.3" opacity="0.35"/><line x1="363.0" y1="323.4" x2="341.2" y2="318.0" stroke="#D4B577" stroke-width="1.3" opacity="0.31"/><line x1="717.2" y1="350.8" x2="740.4" y2="348.1" stroke="#D4B577" stroke-width="1.3" opacity="0.15"/><line x1="560.3" y1="272.7" x2="566.8" y2="257.6" stroke="#D4B577" stroke-width="1.3" opacity="0.31"/><line x1="610.4" y1="245.8" x2="620.2" y2="233.1" stroke="#D4B577" stroke-width="1.3" opacity="0.17"/><line x1="428.5" y1="370.7" x2="412.4" y2="370.5" stroke="#D4B577" stroke-width="1.3" opacity="0.31"/><line x1="583.4" y1="264.6" x2="590.6" y2="252.1" stroke="#D4B577" stroke-width="1.3" opacity="0.23"/><line x1="336.3" y1="381.5" x2="313.2" y2="382.6" stroke="#D4B577" stroke-width="1.3" opacity="0.24"/><line x1="596.5" y1="319.8" x2="607.7" y2="308.0" stroke="#D4B577" stroke-width="1.3" opacity="0.14"/><line x1="406.6" y1="285.0" x2="399.9" y2="279.2" stroke="#D4B577" stroke-width="1.3" opacity="0.34"/><line x1="543.4" y1="282.3" x2="545.6" y2="271.2" stroke="#D4B577" stroke-width="1.3" opacity="0.30"/><line x1="618.1" y1="270.8" x2="619.0" y2="264.8" stroke="#D4B577" stroke-width="1.3" opacity="0.18"/><line x1="643.7" y1="318.6" x2="655.9" y2="310.7" stroke="#D4B577" stroke-width="1.3" opacity="0.13"/><line x1="413.6" y1="287.7" x2="400.2" y2="277.7" stroke="#D4B577" stroke-width="1.3" opacity="0.19"/><line x1="555.7" y1="275.8" x2="553.5" y2="264.8" stroke="#D4B577" stroke-width="1.3" opacity="0.33"/><line x1="349.5" y1="293.7" x2="323.2" y2="284.5" stroke="#D4B577" stroke-width="1.3" opacity="0.23"/><line x1="746.5" y1="312.7" x2="761.0" y2="308.1" stroke="#D4B577" stroke-width="1.3" opacity="0.17"/><line x1="662.4" y1="371.2" x2="682.4" y2="371.1" stroke="#D4B577" stroke-width="1.3" opacity="0.24"/><line x1="651.5" y1="372.9" x2="676.0" y2="373.1" stroke="#D4B577" stroke-width="1.3" opacity="0.32"/><line x1="624.1" y1="315.1" x2="641.4" y2="303.3" stroke="#D4B577" stroke-width="1.3" opacity="0.13"/><line x1="378.9" y1="379.4" x2="361.4" y2="380.2" stroke="#D4B577" stroke-width="1.3" opacity="0.15"/><line x1="475.8" y1="297.8" x2="459.9" y2="284.3" stroke="#D4B577" stroke-width="1.3" opacity="0.29"/><line x1="642.2" y1="347.5" x2="667.5" y2="341.6" stroke="#D4B577" stroke-width="1.3" opacity="0.33"/><line x1="449.8" y1="302.5" x2="443.3" y2="294.5" stroke="#D4B577" stroke-width="1.3" opacity="0.26"/><line x1="476.3" y1="286.9" x2="466.2" y2="278.9" stroke="#D4B577" stroke-width="1.3" opacity="0.14"/><line x1="663.0" y1="341.2" x2="686.8" y2="335.0" stroke="#D4B577" stroke-width="1.3" opacity="0.18"/><line x1="549.7" y1="299.0" x2="554.7" y2="289.1" stroke="#D4B577" stroke-width="1.3" opacity="0.32"/><line x1="701.8" y1="322.2" x2="727.6" y2="315.0" stroke="#D4B577" stroke-width="1.3" opacity="0.25"/><line x1="611.0" y1="328.9" x2="627.1" y2="319.1" stroke="#D4B577" stroke-width="1.3" opacity="0.29"/><line x1="607.8" y1="301.9" x2="616.2" y2="296.5" stroke="#D4B577" stroke-width="1.3" opacity="0.15"/><line x1="532.8" y1="285.7" x2="534.3" y2="276.6" stroke="#D4B577" stroke-width="1.3" opacity="0.34"/><line x1="411.2" y1="291.0" x2="401.3" y2="284.5" stroke="#D4B577" stroke-width="1.3" opacity="0.21"/><line x1="437.6" y1="339.2" x2="427.4" y2="335.4" stroke="#D4B577" stroke-width="1.3" opacity="0.23"/><line x1="366.9" y1="289.4" x2="344.5" y2="278.9" stroke="#D4B577" stroke-width="1.3" opacity="0.15"/><line x1="450.9" y1="337.2" x2="436.1" y2="332.0" stroke="#D4B577" stroke-width="1.3" opacity="0.17"/><line x1="418.9" y1="296.8" x2="402.9" y2="285.5" stroke="#D4B577" stroke-width="1.3" opacity="0.21"/><line x1="499.0" y1="273.3" x2="493.2" y2="263.6" stroke="#D4B577" stroke-width="1.3" opacity="0.13"/><line x1="390.8" y1="266.4" x2="383.2" y2="261.0" stroke="#D4B577" stroke-width="1.3" opacity="0.26"/><line x1="657.9" y1="350.3" x2="671.0" y2="347.7" stroke="#D4B577" stroke-width="1.3" opacity="0.21"/><line x1="508.3" y1="234.8" x2="510.4" y2="219.6" stroke="#D4B577" stroke-width="1.3" opacity="0.13"/><line x1="348.1" y1="369.4" x2="322.1" y2="369.0" stroke="#D4B577" stroke-width="1.3" opacity="0.26"/><line x1="392.9" y1="379.8" x2="366.2" y2="381.2" stroke="#D4B577" stroke-width="1.3" opacity="0.32"/><line x1="667.3" y1="378.3" x2="678.7" y2="378.8" stroke="#D4B577" stroke-width="1.3" opacity="0.24"/><line x1="678.1" y1="263.7" x2="693.8" y2="252.7" stroke="#D4B577" stroke-width="1.3" opacity="0.30"/><line x1="522.8" y1="268.4" x2="524.8" y2="262.3" stroke="#D4B577" stroke-width="1.3" opacity="0.17"/><line x1="722.2" y1="361.0" x2="736.6" y2="360.1" stroke="#D4B577" stroke-width="1.3" opacity="0.18"/><line x1="632.6" y1="270.0" x2="633.5" y2="263.9" stroke="#D4B577" stroke-width="1.3" opacity="0.24"/><line x1="587.1" y1="286.6" x2="592.3" y2="278.7" stroke="#D4B577" stroke-width="1.3" opacity="0.12"/><line x1="447.1" y1="294.2" x2="432.4" y2="280.8" stroke="#D4B577" stroke-width="1.3" opacity="0.32"/><line x1="534.9" y1="295.0" x2="538.2" y2="286.5" stroke="#D4B577" stroke-width="1.3" opacity="0.28"/><line x1="484.8" y1="323.8" x2="475.2" y2="314.5" stroke="#D4B577" stroke-width="1.3" opacity="0.22"/><line x1="408.8" y1="291.1" x2="387.6" y2="279.6" stroke="#D4B577" stroke-width="1.3" opacity="0.13"/><line x1="466.3" y1="290.8" x2="452.9" y2="279.0" stroke="#D4B577" stroke-width="1.3" opacity="0.30"/><line x1="663.6" y1="306.5" x2="676.7" y2="301.2" stroke="#D4B577" stroke-width="1.3" opacity="0.19"/><line x1="653.4" y1="339.5" x2="666.4" y2="336.0" stroke="#D4B577" stroke-width="1.3" opacity="0.19"/><line x1="702.1" y1="373.1" x2="714.9" y2="373.2" stroke="#D4B577" stroke-width="1.3" opacity="0.22"/><line x1="668.4" y1="258.5" x2="674.0" y2="252.4" stroke="#D4B577" stroke-width="1.3" opacity="0.17"/><line x1="652.4" y1="378.0" x2="662.8" y2="378.5" stroke="#D4B577" stroke-width="1.3" opacity="0.21"/><line x1="753.1" y1="349.3" x2="776.8" y2="346.9" stroke="#D4B577" stroke-width="1.3" opacity="0.33"/><line x1="479.1" y1="309.4" x2="467.3" y2="295.4" stroke="#D4B577" stroke-width="1.3" opacity="0.13"/><line x1="622.7" y1="298.4" x2="630.6" y2="290.2" stroke="#D4B577" stroke-width="1.3" opacity="0.16"/><line x1="408.4" y1="378.3" x2="392.3" y2="379.0" stroke="#D4B577" stroke-width="1.3" opacity="0.15"/><line x1="661.8" y1="376.0" x2="677.5" y2="376.5" stroke="#D4B577" stroke-width="1.3" opacity="0.31"/><line x1="521.5" y1="311.8" x2="517.3" y2="300.9" stroke="#D4B577" stroke-width="1.3" opacity="0.33"/><line x1="418.9" y1="324.5" x2="394.5" y2="315.9" stroke="#D4B577" stroke-width="1.3" opacity="0.21"/><line x1="718.6" y1="316.9" x2="724.9" y2="314.2" stroke="#D4B577" stroke-width="1.3" opacity="0.13"/><line x1="668.2" y1="364.3" x2="691.6" y2="362.9" stroke="#D4B577" stroke-width="1.3" opacity="0.20"/><line x1="388.7" y1="268.6" x2="372.2" y2="259.1" stroke="#D4B577" stroke-width="1.3" opacity="0.28"/><line x1="467.9" y1="304.7" x2="464.5" y2="299.9" stroke="#D4B577" stroke-width="1.3" opacity="0.33"/><line x1="647.6" y1="251.2" x2="649.0" y2="245.9" stroke="#D4B577" stroke-width="1.3" opacity="0.23"/><line x1="766.0" y1="375.8" x2="782.5" y2="376.1" stroke="#D4B577" stroke-width="1.3" opacity="0.22"/><line x1="544.8" y1="235.7" x2="549.3" y2="227.9" stroke="#D4B577" stroke-width="1.3" opacity="0.29"/><line x1="722.6" y1="320.8" x2="740.4" y2="315.6" stroke="#D4B577" stroke-width="1.3" opacity="0.19"/><line x1="456.4" y1="259.2" x2="448.4" y2="253.2" stroke="#D4B577" stroke-width="1.3" opacity="0.29"/><line x1="465.7" y1="329.2" x2="458.7" y2="325.0" stroke="#D4B577" stroke-width="1.3" opacity="0.19"/><line x1="755.0" y1="386.2" x2="782.9" y2="388.0" stroke="#D4B577" stroke-width="1.3" opacity="0.14"/><line x1="382.2" y1="348.2" x2="360.2" y2="344.9" stroke="#D4B577" stroke-width="1.3" opacity="0.17"/><line x1="497.4" y1="265.1" x2="495.2" y2="252.1" stroke="#D4B577" stroke-width="1.3" opacity="0.31"/><line x1="602.3" y1="316.5" x2="615.1" y2="303.9" stroke="#D4B577" stroke-width="1.3" opacity="0.25"/><line x1="465.7" y1="260.9" x2="457.9" y2="253.5" stroke="#D4B577" stroke-width="1.3" opacity="0.18"/><line x1="343.8" y1="316.2" x2="324.5" y2="311.0" stroke="#D4B577" stroke-width="1.3" opacity="0.21"/><line x1="702.0" y1="386.9" x2="714.9" y2="388.1" stroke="#D4B577" stroke-width="1.3" opacity="0.27"/><line x1="646.2" y1="381.4" x2="663.7" y2="383.0" stroke="#D4B577" stroke-width="1.3" opacity="0.31"/><line x1="638.0" y1="365.0" x2="652.3" y2="363.9" stroke="#D4B577" stroke-width="1.3" opacity="0.16"/><line x1="713.8" y1="380.8" x2="740.4" y2="382.2" stroke="#D4B577" stroke-width="1.3" opacity="0.32"/><line x1="523.3" y1="293.4" x2="524.3" y2="279.0" stroke="#D4B577" stroke-width="1.3" opacity="0.14"/><line x1="605.0" y1="269.5" x2="608.5" y2="261.8" stroke="#D4B577" stroke-width="1.3" opacity="0.15"/><line x1="434.4" y1="327.1" x2="418.4" y2="319.9" stroke="#D4B577" stroke-width="1.3" opacity="0.17"/><line x1="401.5" y1="376.1" x2="379.8" y2="376.8" stroke="#D4B577" stroke-width="1.3" opacity="0.19"/><line x1="372.3" y1="300.9" x2="353.0" y2="294.1" stroke="#D4B577" stroke-width="1.3" opacity="0.14"/><line x1="487.8" y1="273.0" x2="476.8" y2="260.7" stroke="#D4B577" stroke-width="1.3" opacity="0.16"/><line x1="637.7" y1="302.1" x2="645.8" y2="295.3" stroke="#D4B577" stroke-width="1.3" opacity="0.34"/><line x1="443.6" y1="284.7" x2="433.9" y2="276.6" stroke="#D4B577" stroke-width="1.3" opacity="0.32"/><line x1="681.8" y1="386.3" x2="694.3" y2="387.6" stroke="#D4B577" stroke-width="1.3" opacity="0.17"/><line x1="321.7" y1="381.0" x2="304.3" y2="381.7" stroke="#D4B577" stroke-width="1.3" opacity="0.21"/><line x1="693.4" y1="350.6" x2="704.2" y2="348.9" stroke="#D4B577" stroke-width="1.3" opacity="0.25"/><line x1="649.7" y1="255.2" x2="656.7" y2="249.4" stroke="#D4B577" stroke-width="1.3" opacity="0.21"/><line x1="546.7" y1="302.6" x2="547.7" y2="293.7" stroke="#D4B577" stroke-width="1.3" opacity="0.33"/><line x1="385.0" y1="344.4" x2="363.2" y2="340.2" stroke="#D4B577" stroke-width="1.3" opacity="0.17"/><line x1="328.6" y1="325.6" x2="302.7" y2="319.9" stroke="#D4B577" stroke-width="1.3" opacity="0.13"/><line x1="686.7" y1="365.1" x2="712.8" y2="363.9" stroke="#D4B577" stroke-width="1.3" opacity="0.31"/><line x1="358.3" y1="317.1" x2="345.7" y2="313.4" stroke="#D4B577" stroke-width="1.3" opacity="0.31"/><line x1="648.9" y1="343.3" x2="660.8" y2="340.0" stroke="#D4B577" stroke-width="1.3" opacity="0.24"/><line x1="502.0" y1="308.6" x2="498.7" y2="300.6" stroke="#D4B577" stroke-width="1.3" opacity="0.33"/><line x1="368.8" y1="366.5" x2="345.2" y2="365.7" stroke="#D4B577" stroke-width="1.3" opacity="0.31"/><line x1="372.0" y1="338.6" x2="353.9" y2="334.9" stroke="#D4B577" stroke-width="1.3" opacity="0.19"/><line x1="500.5" y1="268.0" x2="498.4" y2="257.7" stroke="#D4B577" stroke-width="1.3" opacity="0.22"/><line x1="524.1" y1="313.8" x2="520.6" y2="301.2" stroke="#D4B577" stroke-width="1.3" opacity="0.17"/><line x1="703.0" y1="299.1" x2="714.9" y2="292.7" stroke="#D4B577" stroke-width="1.3" opacity="0.23"/><line x1="433.3" y1="353.4" x2="415.8" y2="350.5" stroke="#D4B577" stroke-width="1.3" opacity="0.22"/><line x1="547.7" y1="311.7" x2="546.4" y2="298.8" stroke="#D4B577" stroke-width="1.3" opacity="0.29"/><line x1="677.3" y1="316.6" x2="685.9" y2="313.1" stroke="#D4B577" stroke-width="1.3" opacity="0.21"/><line x1="652.0" y1="372.5" x2="677.1" y2="372.6" stroke="#D4B577" stroke-width="1.3" opacity="0.29"/><line x1="647.8" y1="339.7" x2="672.5" y2="332.2" stroke="#D4B577" stroke-width="1.3" opacity="0.34"/><line x1="655.3" y1="364.1" x2="679.5" y2="362.5" stroke="#D4B577" stroke-width="1.3" opacity="0.14"/><line x1="451.2" y1="263.2" x2="450.2" y2="256.5" stroke="#D4B577" stroke-width="1.3" opacity="0.18"/><line x1="641.6" y1="341.7" x2="659.8" y2="336.7" stroke="#D4B577" stroke-width="1.3" opacity="0.17"/><line x1="426.9" y1="299.6" x2="412.8" y2="292.8" stroke="#D4B577" stroke-width="1.3" opacity="0.16"/><line x1="339.8" y1="311.0" x2="322.8" y2="305.0" stroke="#D4B577" stroke-width="1.3" opacity="0.16"/><line x1="632.5" y1="336.6" x2="649.4" y2="330.4" stroke="#D4B577" stroke-width="1.3" opacity="0.20"/><line x1="704.8" y1="345.4" x2="725.3" y2="342.2" stroke="#D4B577" stroke-width="1.3" opacity="0.14"/><line x1="718.8" y1="388.6" x2="734.7" y2="390.2" stroke="#D4B577" stroke-width="1.3" opacity="0.18"/><line x1="711.8" y1="387.1" x2="727.2" y2="388.5" stroke="#D4B577" stroke-width="1.3" opacity="0.22"/><line x1="368.7" y1="312.7" x2="361.8" y2="309.6" stroke="#D4B577" stroke-width="1.3" opacity="0.18"/><line x1="653.9" y1="249.3" x2="666.0" y2="238.6" stroke="#D4B577" stroke-width="1.3" opacity="0.19"/><line x1="442.6" y1="376.9" x2="430.5" y2="377.5" stroke="#D4B577" stroke-width="1.3" opacity="0.22"/><line x1="558.9" y1="238.9" x2="556.2" y2="231.8" stroke="#D4B577" stroke-width="1.3" opacity="0.27"/><line x1="446.6" y1="372.7" x2="430.8" y2="372.8" stroke="#D4B577" stroke-width="1.3" opacity="0.20"/><line x1="403.9" y1="305.1" x2="386.0" y2="297.4" stroke="#D4B577" stroke-width="1.3" opacity="0.26"/><line x1="535.3" y1="303.5" x2="532.1" y2="287.2" stroke="#D4B577" stroke-width="1.3" opacity="0.15"/><line x1="363.1" y1="345.6" x2="339.2" y2="341.9" stroke="#D4B577" stroke-width="1.3" opacity="0.21"/><line x1="474.9" y1="329.9" x2="460.6" y2="320.4" stroke="#D4B577" stroke-width="1.3" opacity="0.20"/><line x1="619.5" y1="290.5" x2="635.4" y2="276.5" stroke="#D4B577" stroke-width="1.3" opacity="0.18"/><line x1="638.0" y1="362.7" x2="656.8" y2="360.9" stroke="#D4B577" stroke-width="1.3" opacity="0.17"/><line x1="339.6" y1="358.3" x2="330.2" y2="357.6" stroke="#D4B577" stroke-width="1.3" opacity="0.34"/><line x1="428.6" y1="343.4" x2="409.6" y2="338.5" stroke="#D4B577" stroke-width="1.3" opacity="0.27"/><line x1="645.1" y1="340.0" x2="657.9" y2="335.9" stroke="#D4B577" stroke-width="1.3" opacity="0.13"/><line x1="738.1" y1="347.1" x2="758.8" y2="344.3" stroke="#D4B577" stroke-width="1.3" opacity="0.31"/><line x1="661.5" y1="310.2" x2="679.0" y2="301.2" stroke="#D4B577" stroke-width="1.3" opacity="0.17"/><line x1="419.2" y1="351.4" x2="409.2" y2="349.8" stroke="#D4B577" stroke-width="1.3" opacity="0.29"/><line x1="677.1" y1="273.8" x2="689.3" y2="263.3" stroke="#D4B577" stroke-width="1.3" opacity="0.25"/><line x1="504.9" y1="249.5" x2="498.5" y2="238.0" stroke="#D4B577" stroke-width="1.3" opacity="0.27"/><line x1="663.1" y1="376.2" x2="688.9" y2="377.1" stroke="#D4B577" stroke-width="1.3" opacity="0.18"/><line x1="391.6" y1="292.8" x2="373.5" y2="282.0" stroke="#D4B577" stroke-width="1.3" opacity="0.20"/><line x1="675.1" y1="352.3" x2="689.3" y2="350.4" stroke="#D4B577" stroke-width="1.3" opacity="0.27"/><line x1="659.7" y1="284.9" x2="677.1" y2="272.0" stroke="#D4B577" stroke-width="1.3" opacity="0.31"/><line x1="679.6" y1="273.7" x2="693.4" y2="265.6" stroke="#D4B577" stroke-width="1.3" opacity="0.25"/><line x1="469.7" y1="310.5" x2="454.8" y2="300.0" stroke="#D4B577" stroke-width="1.3" opacity="0.33"/><line x1="451.1" y1="348.6" x2="441.8" y2="345.9" stroke="#D4B577" stroke-width="1.3" opacity="0.20"/><line x1="450.5" y1="349.1" x2="441.7" y2="346.7" stroke="#D4B577" stroke-width="1.3" opacity="0.27"/><line x1="668.2" y1="281.3" x2="676.0" y2="276.5" stroke="#D4B577" stroke-width="1.3" opacity="0.20"/><line x1="727.0" y1="317.1" x2="747.7" y2="310.3" stroke="#D4B577" stroke-width="1.3" opacity="0.32"/><line x1="763.2" y1="356.0" x2="773.9" y2="355.1" stroke="#D4B577" stroke-width="1.3" opacity="0.15"/><line x1="328.8" y1="368.1" x2="304.5" y2="367.7" stroke="#D4B577" stroke-width="1.3" opacity="0.31"/><line x1="602.8" y1="300.1" x2="605.0" y2="294.0" stroke="#D4B577" stroke-width="1.3" opacity="0.29"/><line x1="427.3" y1="323.7" x2="410.7" y2="317.7" stroke="#D4B577" stroke-width="1.3" opacity="0.18"/><line x1="416.3" y1="281.3" x2="404.2" y2="273.7" stroke="#D4B577" stroke-width="1.3" opacity="0.34"/><line x1="551.9" y1="242.4" x2="546.6" y2="229.7" stroke="#D4B577" stroke-width="1.3" opacity="0.21"/><line x1="505.5" y1="250.7" x2="505.4" y2="241.2" stroke="#D4B577" stroke-width="1.3" opacity="0.24"/><line x1="370.2" y1="292.9" x2="364.1" y2="288.8" stroke="#D4B577" stroke-width="1.3" opacity="0.16"/><line x1="419.2" y1="378.1" x2="395.6" y2="379.3" stroke="#D4B577" stroke-width="1.3" opacity="0.12"/><line x1="542.0" y1="273.0" x2="538.8" y2="258.2" stroke="#D4B577" stroke-width="1.3" opacity="0.23"/><line x1="444.1" y1="258.1" x2="443.0" y2="250.4" stroke="#D4B577" stroke-width="1.3" opacity="0.19"/><line x1="387.5" y1="301.9" x2="369.8" y2="295.1" stroke="#D4B577" stroke-width="1.3" opacity="0.27"/><line x1="340.7" y1="348.8" x2="319.5" y2="346.2" stroke="#D4B577" stroke-width="1.3" opacity="0.26"/><line x1="475.5" y1="289.7" x2="471.8" y2="280.5" stroke="#D4B577" stroke-width="1.3" opacity="0.14"/><line x1="634.5" y1="360.0" x2="647.0" y2="358.3" stroke="#D4B577" stroke-width="1.3" opacity="0.33"/><line x1="547.0" y1="282.7" x2="545.4" y2="266.9" stroke="#D4B577" stroke-width="1.3" opacity="0.23"/><line x1="569.8" y1="251.9" x2="575.2" y2="237.8" stroke="#D4B577" stroke-width="1.3" opacity="0.20"/><line x1="480.4" y1="311.9" x2="468.6" y2="298.9" stroke="#D4B577" stroke-width="1.3" opacity="0.29"/><line x1="403.9" y1="327.5" x2="383.4" y2="320.7" stroke="#D4B577" stroke-width="1.3" opacity="0.15"/><line x1="521.5" y1="239.8" x2="516.1" y2="231.4" stroke="#D4B577" stroke-width="1.3" opacity="0.19"/><line x1="681.3" y1="276.2" x2="686.0" y2="270.7" stroke="#D4B577" stroke-width="1.3" opacity="0.18"/><line x1="453.8" y1="285.2" x2="445.8" y2="278.7" stroke="#D4B577" stroke-width="1.3" opacity="0.16"/><line x1="733.9" y1="382.7" x2="744.4" y2="383.3" stroke="#D4B577" stroke-width="1.3" opacity="0.14"/><line x1="461.0" y1="239.5" x2="456.1" y2="225.6" stroke="#D4B577" stroke-width="1.3" opacity="0.22"/><line x1="387.8" y1="310.8" x2="376.5" y2="307.0" stroke="#D4B577" stroke-width="1.3" opacity="0.21"/><line x1="391.4" y1="369.4" x2="367.5" y2="369.0" stroke="#D4B577" stroke-width="1.3" opacity="0.24"/><line x1="614.8" y1="286.9" x2="621.4" y2="280.5" stroke="#D4B577" stroke-width="1.3" opacity="0.21"/><line x1="707.0" y1="284.5" x2="720.8" y2="277.6" stroke="#D4B577" stroke-width="1.3" opacity="0.29"/><line x1="512.2" y1="297.4" x2="510.4" y2="283.8" stroke="#D4B577" stroke-width="1.3" opacity="0.30"/><line x1="680.5" y1="274.7" x2="696.5" y2="264.7" stroke="#D4B577" stroke-width="1.3" opacity="0.22"/><line x1="439.1" y1="280.2" x2="432.1" y2="274.5" stroke="#D4B577" stroke-width="1.3" opacity="0.30"/><line x1="665.8" y1="292.4" x2="674.8" y2="286.2" stroke="#D4B577" stroke-width="1.3" opacity="0.22"/><line x1="606.3" y1="289.5" x2="619.9" y2="277.4" stroke="#D4B577" stroke-width="1.3" opacity="0.16"/><line x1="648.7" y1="268.0" x2="657.5" y2="259.4" stroke="#D4B577" stroke-width="1.3" opacity="0.34"/><line x1="371.4" y1="367.6" x2="359.2" y2="367.3" stroke="#D4B577" stroke-width="1.3" opacity="0.34"/><line x1="551.7" y1="306.7" x2="554.1" y2="294.6" stroke="#D4B577" stroke-width="1.3" opacity="0.28"/><line x1="555.5" y1="260.7" x2="557.9" y2="245.7" stroke="#D4B577" stroke-width="1.3" opacity="0.21"/><line x1="662.3" y1="371.8" x2="684.3" y2="371.8" stroke="#D4B577" stroke-width="1.3" opacity="0.30"/><line x1="322.0" y1="326.3" x2="304.9" y2="323.2" stroke="#D4B577" stroke-width="1.3" opacity="0.18"/><line x1="512.2" y1="316.4" x2="506.6" y2="306.4" stroke="#D4B577" stroke-width="1.3" opacity="0.28"/><line x1="482.3" y1="300.6" x2="478.2" y2="293.2" stroke="#D4B577" stroke-width="1.3" opacity="0.34"/><line x1="556.7" y1="297.0" x2="559.1" y2="282.3" stroke="#D4B577" stroke-width="1.3" opacity="0.17"/><line x1="351.1" y1="329.4" x2="328.8" y2="324.2" stroke="#D4B577" stroke-width="1.3" opacity="0.23"/><line x1="571.4" y1="298.1" x2="577.0" y2="282.0" stroke="#D4B577" stroke-width="1.3" opacity="0.27"/><line x1="726.9" y1="317.7" x2="742.0" y2="313.0" stroke="#D4B577" stroke-width="1.3" opacity="0.25"/><line x1="342.6" y1="329.4" x2="329.2" y2="326.1" stroke="#D4B577" stroke-width="1.3" opacity="0.18"/><line x1="492.6" y1="298.9" x2="483.7" y2="289.1" stroke="#D4B577" stroke-width="1.3" opacity="0.12"/><line x1="634.7" y1="315.4" x2="643.4" y2="309.5" stroke="#D4B577" stroke-width="1.3" opacity="0.23"/><line x1="503.9" y1="262.7" x2="498.0" y2="249.8" stroke="#D4B577" stroke-width="1.3" opacity="0.33"/><line x1="635.8" y1="352.5" x2="660.2" y2="347.7" stroke="#D4B577" stroke-width="1.3" opacity="0.30"/><line x1="346.8" y1="323.2" x2="324.8" y2="318.3" stroke="#D4B577" stroke-width="1.3" opacity="0.12"/><line x1="724.5" y1="373.2" x2="738.4" y2="373.3" stroke="#D4B577" stroke-width="1.3" opacity="0.15"/><line x1="387.1" y1="291.8" x2="372.2" y2="285.5" stroke="#D4B577" stroke-width="1.3" opacity="0.33"/><line x1="640.2" y1="335.7" x2="662.9" y2="327.6" stroke="#D4B577" stroke-width="1.3" opacity="0.30"/><line x1="666.0" y1="263.2" x2="683.8" y2="251.2" stroke="#D4B577" stroke-width="1.3" opacity="0.17"/><line x1="647.6" y1="293.7" x2="661.9" y2="282.8" stroke="#D4B577" stroke-width="1.3" opacity="0.32"/><line x1="569.7" y1="294.5" x2="569.8" y2="286.4" stroke="#D4B577" stroke-width="1.3" opacity="0.23"/><line x1="382.8" y1="361.2" x2="370.9" y2="360.4" stroke="#D4B577" stroke-width="1.3" opacity="0.23"/><line x1="577.8" y1="243.3" x2="584.0" y2="237.6" stroke="#D4B577" stroke-width="1.3" opacity="0.23"/><line x1="587.2" y1="261.8" x2="592.0" y2="247.1" stroke="#D4B577" stroke-width="1.3" opacity="0.22"/><line x1="643.4" y1="374.6" x2="664.5" y2="375.1" stroke="#D4B577" stroke-width="1.3" opacity="0.13"/><line x1="616.2" y1="266.5" x2="625.0" y2="251.6" stroke="#D4B577" stroke-width="1.3" opacity="0.35"/><line x1="552.8" y1="273.9" x2="549.7" y2="258.0" stroke="#D4B577" stroke-width="1.3" opacity="0.29"/><line x1="603.5" y1="295.4" x2="613.8" y2="281.5" stroke="#D4B577" stroke-width="1.3" opacity="0.23"/><line x1="566.1" y1="250.2" x2="567.0" y2="242.1" stroke="#D4B577" stroke-width="1.3" opacity="0.22"/><line x1="587.0" y1="247.6" x2="594.6" y2="238.8" stroke="#D4B577" stroke-width="1.3" opacity="0.21"/><line x1="547.4" y1="291.9" x2="552.7" y2="280.4" stroke="#D4B577" stroke-width="1.3" opacity="0.27"/><line x1="659.8" y1="328.6" x2="671.9" y2="323.9" stroke="#D4B577" stroke-width="1.3" opacity="0.25"/><line x1="637.5" y1="263.3" x2="644.8" y2="257.9" stroke="#D4B577" stroke-width="1.3" opacity="0.32"/><line x1="559.7" y1="311.9" x2="559.3" y2="303.0" stroke="#D4B577" stroke-width="1.3" opacity="0.16"/><line x1="717.1" y1="361.9" x2="738.9" y2="360.7" stroke="#D4B577" stroke-width="1.3" opacity="0.33"/><line x1="613.6" y1="272.0" x2="624.4" y2="260.3" stroke="#D4B577" stroke-width="1.3" opacity="0.26"/><line x1="615.2" y1="312.6" x2="628.2" y2="302.1" stroke="#D4B577" stroke-width="1.3" opacity="0.30"/><line x1="425.6" y1="353.5" x2="416.5" y2="352.0" stroke="#D4B577" stroke-width="1.3" opacity="0.33"/><line x1="618.4" y1="297.6" x2="634.2" y2="285.0" stroke="#D4B577" stroke-width="1.3" opacity="0.25"/><line x1="445.0" y1="313.1" x2="431.7" y2="305.6" stroke="#D4B577" stroke-width="1.3" opacity="0.22"/><line x1="652.1" y1="253.7" x2="658.1" y2="248.2" stroke="#D4B577" stroke-width="1.3" opacity="0.13"/><line x1="344.2" y1="332.6" x2="327.1" y2="328.8" stroke="#D4B577" stroke-width="1.3" opacity="0.22"/><line x1="393.1" y1="375.5" x2="372.7" y2="376.0" stroke="#D4B577" stroke-width="1.3" opacity="0.35"/><line x1="534.0" y1="279.8" x2="534.9" y2="273.0" stroke="#D4B577" stroke-width="1.3" opacity="0.17"/><line x1="453.5" y1="347.7" x2="445.4" y2="345.3" stroke="#D4B577" stroke-width="1.3" opacity="0.15"/><line x1="645.1" y1="375.9" x2="670.7" y2="376.8" stroke="#D4B577" stroke-width="1.3" opacity="0.12"/><line x1="630.1" y1="317.3" x2="644.4" y2="307.4" stroke="#D4B577" stroke-width="1.3" opacity="0.13"/><line x1="699.5" y1="305.9" x2="722.0" y2="297.2" stroke="#D4B577" stroke-width="1.3" opacity="0.14"/><line x1="628.9" y1="267.7" x2="641.9" y2="258.0" stroke="#D4B577" stroke-width="1.3" opacity="0.18"/><line x1="732.8" y1="378.3" x2="742.5" y2="378.6" stroke="#D4B577" stroke-width="1.3" opacity="0.27"/><line x1="633.9" y1="344.4" x2="648.2" y2="340.4" stroke="#D4B577" stroke-width="1.3" opacity="0.16"/><line x1="693.7" y1="343.0" x2="703.3" y2="341.1" stroke="#D4B577" stroke-width="1.3" opacity="0.25"/><line x1="509.2" y1="258.7" x2="510.8" y2="251.4" stroke="#D4B577" stroke-width="1.3" opacity="0.20"/><line x1="632.5" y1="276.7" x2="640.0" y2="267.8" stroke="#D4B577" stroke-width="1.3" opacity="0.30"/><line x1="742.4" y1="370.4" x2="762.2" y2="370.2" stroke="#D4B577" stroke-width="1.3" opacity="0.13"/><line x1="730.4" y1="382.0" x2="755.2" y2="383.3" stroke="#D4B577" stroke-width="1.3" opacity="0.26"/><line x1="748.0" y1="384.5" x2="768.6" y2="385.7" stroke="#D4B577" stroke-width="1.3" opacity="0.22"/><line x1="682.5" y1="353.7" x2="704.2" y2="351.0" stroke="#D4B577" stroke-width="1.3" opacity="0.33"/><line x1="657.5" y1="334.4" x2="664.8" y2="331.8" stroke="#D4B577" stroke-width="1.3" opacity="0.22"/><line x1="608.7" y1="252.4" x2="611.2" y2="237.5" stroke="#D4B577" stroke-width="1.3" opacity="0.31"/><line x1="731.1" y1="313.1" x2="747.5" y2="307.6" stroke="#D4B577" stroke-width="1.3" opacity="0.32"/><line x1="707.0" y1="318.4" x2="729.4" y2="310.9" stroke="#D4B577" stroke-width="1.3" opacity="0.14"/><line x1="585.8" y1="250.0" x2="591.9" y2="242.2" stroke="#D4B577" stroke-width="1.3" opacity="0.33"/><line x1="405.2" y1="301.1" x2="388.3" y2="292.3" stroke="#D4B577" stroke-width="1.3" opacity="0.17"/><line x1="399.4" y1="286.8" x2="381.9" y2="276.4" stroke="#D4B577" stroke-width="1.3" opacity="0.14"/><line x1="717.7" y1="314.8" x2="730.2" y2="310.9" stroke="#D4B577" stroke-width="1.3" opacity="0.33"/><line x1="701.9" y1="350.2" x2="719.9" y2="347.8" stroke="#D4B577" stroke-width="1.3" opacity="0.16"/><line x1="440.3" y1="333.1" x2="420.8" y2="325.7" stroke="#D4B577" stroke-width="1.3" opacity="0.25"/><line x1="493.1" y1="275.0" x2="485.0" y2="267.9" stroke="#D4B577" stroke-width="1.3" opacity="0.35"/><line x1="499.5" y1="310.8" x2="493.7" y2="298.8" stroke="#D4B577" stroke-width="1.3" opacity="0.16"/><line x1="591.6" y1="291.5" x2="594.2" y2="280.7" stroke="#D4B577" stroke-width="1.3" opacity="0.13"/><line x1="751.7" y1="390.5" x2="769.7" y2="392.1" stroke="#D4B577" stroke-width="1.3" opacity="0.18"/><line x1="667.7" y1="321.0" x2="691.8" y2="312.0" stroke="#D4B577" stroke-width="1.3" opacity="0.31"/><line x1="668.3" y1="375.9" x2="678.4" y2="376.3" stroke="#D4B577" stroke-width="1.3" opacity="0.16"/><line x1="441.8" y1="360.0" x2="423.1" y2="357.6" stroke="#D4B577" stroke-width="1.3" opacity="0.23"/><line x1="759.9" y1="371.3" x2="770.4" y2="371.3" stroke="#D4B577" stroke-width="1.3" opacity="0.21"/><line x1="324.8" y1="328.2" x2="311.7" y2="325.4" stroke="#D4B577" stroke-width="1.3" opacity="0.27"/><line x1="726.4" y1="375.0" x2="743.0" y2="375.3" stroke="#D4B577" stroke-width="1.3" opacity="0.16"/><line x1="771.0" y1="380.2" x2="784.7" y2="380.7" stroke="#D4B577" stroke-width="1.3" opacity="0.18"/><line x1="442.8" y1="251.8" x2="435.7" y2="237.4" stroke="#D4B577" stroke-width="1.3" opacity="0.13"/><line x1="703.4" y1="310.2" x2="724.8" y2="303.4" stroke="#D4B577" stroke-width="1.3" opacity="0.13"/><line x1="357.8" y1="324.0" x2="334.1" y2="317.6" stroke="#D4B577" stroke-width="1.3" opacity="0.19"/><line x1="609.1" y1="257.8" x2="610.9" y2="251.3" stroke="#D4B577" stroke-width="1.3" opacity="0.18"/><line x1="388.8" y1="339.7" x2="376.2" y2="337.2" stroke="#D4B577" stroke-width="1.3" opacity="0.15"/><line x1="597.2" y1="325.7" x2="609.2" y2="314.6" stroke="#D4B577" stroke-width="1.3" opacity="0.13"/><line x1="663.4" y1="366.6" x2="690.3" y2="365.4" stroke="#D4B577" stroke-width="1.3" opacity="0.32"/><line x1="396.2" y1="335.9" x2="387.6" y2="333.4" stroke="#D4B577" stroke-width="1.3" opacity="0.31"/><line x1="612.2" y1="287.2" x2="622.3" y2="278.7" stroke="#D4B577" stroke-width="1.3" opacity="0.23"/><line x1="592.1" y1="310.6" x2="595.3" y2="303.3" stroke="#D4B577" stroke-width="1.3" opacity="0.28"/><line x1="565.3" y1="304.4" x2="569.1" y2="289.1" stroke="#D4B577" stroke-width="1.3" opacity="0.21"/><line x1="421.8" y1="337.7" x2="398.6" y2="331.1" stroke="#D4B577" stroke-width="1.3" opacity="0.16"/><line x1="541.8" y1="287.8" x2="538.3" y2="271.8" stroke="#D4B577" stroke-width="1.3" opacity="0.35"/><line x1="323.4" y1="357.8" x2="301.4" y2="356.4" stroke="#D4B577" stroke-width="1.3" opacity="0.23"/><line x1="458.5" y1="310.7" x2="449.4" y2="304.5" stroke="#D4B577" stroke-width="1.3" opacity="0.35"/><line x1="758.9" y1="394.8" x2="770.4" y2="395.9" stroke="#D4B577" stroke-width="1.3" opacity="0.33"/><line x1="346.8" y1="359.1" x2="332.9" y2="358.1" stroke="#D4B577" stroke-width="1.3" opacity="0.12"/><line x1="664.5" y1="332.0" x2="672.9" y2="328.7" stroke="#D4B577" stroke-width="1.3" opacity="0.31"/><line x1="555.9" y1="299.8" x2="561.6" y2="289.2" stroke="#D4B577" stroke-width="1.3" opacity="0.17"/><line x1="571.7" y1="306.0" x2="577.2" y2="298.6" stroke="#D4B577" stroke-width="1.3" opacity="0.28"/><line x1="453.1" y1="336.9" x2="444.4" y2="333.2" stroke="#D4B577" stroke-width="1.3" opacity="0.23"/><line x1="459.2" y1="316.2" x2="446.8" y2="306.7" stroke="#D4B577" stroke-width="1.3" opacity="0.31"/><line x1="578.8" y1="301.6" x2="583.9" y2="295.5" stroke="#D4B577" stroke-width="1.3" opacity="0.21"/><line x1="612.1" y1="328.9" x2="628.7" y2="318.5" stroke="#D4B577" stroke-width="1.3" opacity="0.31"/><line x1="695.2" y1="344.0" x2="705.5" y2="342.3" stroke="#D4B577" stroke-width="1.3" opacity="0.23"/><line x1="665.7" y1="351.4" x2="678.8" y2="349.4" stroke="#D4B577" stroke-width="1.3" opacity="0.20"/><line x1="410.9" y1="331.9" x2="390.5" y2="326.2" stroke="#D4B577" stroke-width="1.3" opacity="0.24"/><line x1="516.8" y1="271.9" x2="517.5" y2="264.9" stroke="#D4B577" stroke-width="1.3" opacity="0.31"/><line x1="672.3" y1="348.4" x2="693.6" y2="344.5" stroke="#D4B577" stroke-width="1.3" opacity="0.29"/><line x1="326.8" y1="356.1" x2="300.0" y2="354.1" stroke="#D4B577" stroke-width="1.3" opacity="0.24"/><line x1="564.7" y1="270.2" x2="571.0" y2="264.3" stroke="#D4B577" stroke-width="1.3" opacity="0.17"/><line x1="447.6" y1="338.5" x2="436.8" y2="334.2" stroke="#D4B577" stroke-width="1.3" opacity="0.13"/><line x1="355.0" y1="344.1" x2="341.1" y2="342.2" stroke="#D4B577" stroke-width="1.3" opacity="0.26"/><line x1="589.7" y1="275.0" x2="592.1" y2="261.9" stroke="#D4B577" stroke-width="1.3" opacity="0.32"/><line x1="610.0" y1="328.8" x2="618.2" y2="323.8" stroke="#D4B577" stroke-width="1.3" opacity="0.24"/><line x1="468.6" y1="320.7" x2="455.6" y2="312.8" stroke="#D4B577" stroke-width="1.3" opacity="0.26"/><line x1="648.5" y1="351.6" x2="668.2" y2="348.0" stroke="#D4B577" stroke-width="1.3" opacity="0.16"/><line x1="744.6" y1="316.4" x2="759.2" y2="312.3" stroke="#D4B577" stroke-width="1.3" opacity="0.31"/><line x1="559.3" y1="281.9" x2="565.7" y2="265.7" stroke="#D4B577" stroke-width="1.3" opacity="0.20"/><line x1="435.9" y1="314.8" x2="426.1" y2="307.7" stroke="#D4B577" stroke-width="1.3" opacity="0.31"/><line x1="745.2" y1="356.5" x2="769.2" y2="354.7" stroke="#D4B577" stroke-width="1.3" opacity="0.24"/><line x1="763.2" y1="376.3" x2="777.2" y2="376.5" stroke="#D4B577" stroke-width="1.3" opacity="0.27"/><line x1="472.2" y1="278.4" x2="467.3" y2="272.5" stroke="#D4B577" stroke-width="1.3" opacity="0.24"/><line x1="427.6" y1="373.1" x2="400.2" y2="373.4" stroke="#D4B577" stroke-width="1.3" opacity="0.34"/><line x1="638.2" y1="261.1" x2="655.1" y2="247.2" stroke="#D4B577" stroke-width="1.3" opacity="0.13"/><line x1="605.2" y1="303.0" x2="614.4" y2="291.4" stroke="#D4B577" stroke-width="1.3" opacity="0.24"/><line x1="719.0" y1="362.9" x2="733.0" y2="362.2" stroke="#D4B577" stroke-width="1.3" opacity="0.22"/><line x1="673.1" y1="372.6" x2="688.1" y2="372.7" stroke="#D4B577" stroke-width="1.3" opacity="0.15"/><line x1="620.7" y1="242.4" x2="624.2" y2="231.6" stroke="#D4B577" stroke-width="1.3" opacity="0.23"/><line x1="558.0" y1="303.2" x2="557.1" y2="296.2" stroke="#D4B577" stroke-width="1.3" opacity="0.19"/><line x1="503.9" y1="293.4" x2="496.7" y2="285.2" stroke="#D4B577" stroke-width="1.3" opacity="0.25"/><line x1="706.0" y1="332.4" x2="725.2" y2="328.0" stroke="#D4B577" stroke-width="1.3" opacity="0.17"/><line x1="648.3" y1="302.1" x2="662.6" y2="293.4" stroke="#D4B577" stroke-width="1.3" opacity="0.23"/><line x1="468.3" y1="307.9" x2="460.8" y2="301.1" stroke="#D4B577" stroke-width="1.3" opacity="0.21"/><line x1="571.1" y1="317.2" x2="578.6" y2="308.0" stroke="#D4B577" stroke-width="1.3" opacity="0.17"/><line x1="577.8" y1="275.7" x2="586.3" y2="267.0" stroke="#D4B577" stroke-width="1.3" opacity="0.19"/><line x1="634.9" y1="332.1" x2="645.2" y2="328.4" stroke="#D4B577" stroke-width="1.3" opacity="0.22"/><line x1="394.0" y1="360.9" x2="377.0" y2="359.5" stroke="#D4B577" stroke-width="1.3" opacity="0.15"/><line x1="363.5" y1="284.7" x2="342.4" y2="275.8" stroke="#D4B577" stroke-width="1.3" opacity="0.20"/><line x1="457.1" y1="269.1" x2="451.9" y2="257.7" stroke="#D4B577" stroke-width="1.3" opacity="0.31"/><line x1="560.4" y1="252.5" x2="566.2" y2="238.4" stroke="#D4B577" stroke-width="1.3" opacity="0.23"/><line x1="702.8" y1="309.8" x2="722.5" y2="301.3" stroke="#D4B577" stroke-width="1.3" opacity="0.32"/><line x1="340.7" y1="380.9" x2="320.6" y2="381.8" stroke="#D4B577" stroke-width="1.3" opacity="0.34"/><line x1="583.1" y1="283.1" x2="593.6" y2="269.1" stroke="#D4B577" stroke-width="1.3" opacity="0.26"/><line x1="484.1" y1="282.7" x2="479.9" y2="272.5" stroke="#D4B577" stroke-width="1.3" opacity="0.19"/><line x1="485.0" y1="273.1" x2="477.8" y2="263.6" stroke="#D4B577" stroke-width="1.3" opacity="0.30"/><line x1="693.5" y1="339.0" x2="708.9" y2="335.4" stroke="#D4B577" stroke-width="1.3" opacity="0.19"/><line x1="380.8" y1="330.0" x2="360.5" y2="325.2" stroke="#D4B577" stroke-width="1.3" opacity="0.33"/><line x1="428.9" y1="262.3" x2="421.3" y2="249.4" stroke="#D4B577" stroke-width="1.3" opacity="0.17"/><line x1="494.8" y1="240.0" x2="486.8" y2="234.3" stroke="#D4B577" stroke-width="1.3" opacity="0.25"/><line x1="547.7" y1="236.4" x2="549.0" y2="221.9" stroke="#D4B577" stroke-width="1.3" opacity="0.35"/><line x1="557.0" y1="271.3" x2="558.0" y2="257.9" stroke="#D4B577" stroke-width="1.3" opacity="0.20"/><line x1="590.8" y1="290.7" x2="602.1" y2="275.3" stroke="#D4B577" stroke-width="1.3" opacity="0.24"/><line x1="399.3" y1="350.0" x2="383.2" y2="347.5" stroke="#D4B577" stroke-width="1.3" opacity="0.25"/><line x1="761.3" y1="339.6" x2="779.0" y2="337.0" stroke="#D4B577" stroke-width="1.3" opacity="0.26"/><line x1="679.1" y1="385.9" x2="697.5" y2="387.8" stroke="#D4B577" stroke-width="1.3" opacity="0.16"/><line x1="415.1" y1="254.0" x2="401.8" y2="241.3" stroke="#D4B577" stroke-width="1.3" opacity="0.15"/><line x1="726.0" y1="350.7" x2="751.2" y2="348.0" stroke="#D4B577" stroke-width="1.3" opacity="0.32"/><line x1="514.3" y1="303.4" x2="511.1" y2="294.6" stroke="#D4B577" stroke-width="1.3" opacity="0.24"/><line x1="439.2" y1="333.9" x2="421.8" y2="327.1" stroke="#D4B577" stroke-width="1.3" opacity="0.20"/><line x1="719.7" y1="389.0" x2="729.8" y2="390.0" stroke="#D4B577" stroke-width="1.3" opacity="0.30"/><line x1="430.9" y1="277.1" x2="423.6" y2="272.5" stroke="#D4B577" stroke-width="1.3" opacity="0.31"/><line x1="601.6" y1="264.3" x2="605.8" y2="256.8" stroke="#D4B577" stroke-width="1.3" opacity="0.25"/><line x1="414.7" y1="290.0" x2="406.1" y2="281.5" stroke="#D4B577" stroke-width="1.3" opacity="0.25"/><line x1="511.8" y1="306.9" x2="510.6" y2="299.6" stroke="#D4B577" stroke-width="1.3" opacity="0.14"/><line x1="426.9" y1="354.1" x2="409.2" y2="351.1" stroke="#D4B577" stroke-width="1.3" opacity="0.26"/><line x1="630.0" y1="343.0" x2="639.3" y2="340.3" stroke="#D4B577" stroke-width="1.3" opacity="0.19"/><line x1="639.8" y1="309.8" x2="647.0" y2="304.3" stroke="#D4B577" stroke-width="1.3" opacity="0.14"/><line x1="712.2" y1="355.8" x2="727.7" y2="354.3" stroke="#D4B577" stroke-width="1.3" opacity="0.21"/><line x1="323.8" y1="358.9" x2="304.5" y2="357.6" stroke="#D4B577" stroke-width="1.3" opacity="0.22"/><line x1="595.9" y1="301.6" x2="603.5" y2="296.0" stroke="#D4B577" stroke-width="1.3" opacity="0.32"/><line x1="419.1" y1="260.5" x2="403.2" y2="248.0" stroke="#D4B577" stroke-width="1.3" opacity="0.26"/><line x1="702.0" y1="375.8" x2="729.0" y2="376.5" stroke="#D4B577" stroke-width="1.3" opacity="0.21"/><line x1="627.8" y1="318.4" x2="640.6" y2="311.9" stroke="#D4B577" stroke-width="1.3" opacity="0.23"/><line x1="649.5" y1="332.6" x2="659.7" y2="328.7" stroke="#D4B577" stroke-width="1.3" opacity="0.16"/><line x1="673.1" y1="378.4" x2="693.1" y2="379.3" stroke="#D4B577" stroke-width="1.3" opacity="0.24"/><line x1="489.4" y1="285.9" x2="482.5" y2="279.9" stroke="#D4B577" stroke-width="1.3" opacity="0.31"/><line x1="483.2" y1="302.3" x2="475.9" y2="295.2" stroke="#D4B577" stroke-width="1.3" opacity="0.17"/><line x1="354.4" y1="368.4" x2="338.7" y2="368.1" stroke="#D4B577" stroke-width="1.3" opacity="0.28"/><line x1="412.8" y1="353.9" x2="387.8" y2="350.5" stroke="#D4B577" stroke-width="1.3" opacity="0.22"/><line x1="730.4" y1="325.0" x2="741.1" y2="322.2" stroke="#D4B577" stroke-width="1.3" opacity="0.29"/><line x1="456.9" y1="242.7" x2="458.1" y2="235.2" stroke="#D4B577" stroke-width="1.3" opacity="0.24"/><line x1="419.2" y1="311.4" x2="411.4" y2="306.8" stroke="#D4B577" stroke-width="1.3" opacity="0.18"/><line x1="712.5" y1="354.2" x2="727.9" y2="352.5" stroke="#D4B577" stroke-width="1.3" opacity="0.26"/><line x1="367.3" y1="293.8" x2="358.1" y2="289.6" stroke="#D4B577" stroke-width="1.3" opacity="0.24"/><line x1="405.0" y1="281.0" x2="395.5" y2="273.5" stroke="#D4B577" stroke-width="1.3" opacity="0.25"/><line x1="456.7" y1="297.5" x2="448.1" y2="291.9" stroke="#D4B577" stroke-width="1.3" opacity="0.32"/><line x1="440.6" y1="276.0" x2="435.2" y2="270.2" stroke="#D4B577" stroke-width="1.3" opacity="0.20"/><line x1="546.0" y1="289.7" x2="544.9" y2="283.2" stroke="#D4B577" stroke-width="1.3" opacity="0.17"/><line x1="358.2" y1="332.3" x2="344.1" y2="329.3" stroke="#D4B577" stroke-width="1.3" opacity="0.33"/><line x1="719.5" y1="298.2" x2="737.5" y2="289.5" stroke="#D4B577" stroke-width="1.3" opacity="0.18"/><line x1="352.2" y1="370.5" x2="330.6" y2="370.3" stroke="#D4B577" stroke-width="1.3" opacity="0.21"/><line x1="645.2" y1="274.6" x2="656.4" y2="267.5" stroke="#D4B577" stroke-width="1.3" opacity="0.20"/><line x1="594.9" y1="307.7" x2="603.0" y2="301.5" stroke="#D4B577" stroke-width="1.3" opacity="0.29"/><line x1="608.5" y1="328.5" x2="613.8" y2="324.0" stroke="#D4B577" stroke-width="1.3" opacity="0.17"/><line x1="454.3" y1="299.5" x2="447.0" y2="294.5" stroke="#D4B577" stroke-width="1.3" opacity="0.27"/><line x1="358.1" y1="307.5" x2="342.4" y2="301.4" stroke="#D4B577" stroke-width="1.3" opacity="0.18"/><line x1="506.7" y1="258.3" x2="497.9" y2="248.8" stroke="#D4B577" stroke-width="1.3" opacity="0.31"/><line x1="650.7" y1="326.9" x2="660.8" y2="323.5" stroke="#D4B577" stroke-width="1.3" opacity="0.26"/><line x1="413.2" y1="366.3" x2="402.1" y2="365.7" stroke="#D4B577" stroke-width="1.3" opacity="0.17"/><line x1="736.2" y1="357.9" x2="747.3" y2="357.1" stroke="#D4B577" stroke-width="1.3" opacity="0.21"/><line x1="701.6" y1="291.1" x2="709.3" y2="285.5" stroke="#D4B577" stroke-width="1.3" opacity="0.34"/><line x1="492.5" y1="238.6" x2="491.2" y2="225.3" stroke="#D4B577" stroke-width="1.3" opacity="0.31"/><line x1="612.1" y1="287.1" x2="618.6" y2="281.5" stroke="#D4B577" stroke-width="1.3" opacity="0.22"/><line x1="558.7" y1="236.1" x2="563.3" y2="229.0" stroke="#D4B577" stroke-width="1.3" opacity="0.13"/><line x1="677.5" y1="278.5" x2="687.5" y2="272.1" stroke="#D4B577" stroke-width="1.3" opacity="0.34"/><line x1="622.7" y1="281.7" x2="625.3" y2="274.3" stroke="#D4B577" stroke-width="1.3" opacity="0.20"/><line x1="509.2" y1="300.2" x2="502.5" y2="291.3" stroke="#D4B577" stroke-width="1.3" opacity="0.28"/><line x1="613.7" y1="309.2" x2="621.8" y2="302.3" stroke="#D4B577" stroke-width="1.3" opacity="0.22"/><line x1="681.9" y1="368.2" x2="696.9" y2="367.8" stroke="#D4B577" stroke-width="1.3" opacity="0.15"/><line x1="575.7" y1="289.3" x2="582.5" y2="274.8" stroke="#D4B577" stroke-width="1.3" opacity="0.29"/><line x1="375.8" y1="318.5" x2="357.5" y2="312.6" stroke="#D4B577" stroke-width="1.3" opacity="0.30"/><line x1="640.4" y1="346.0" x2="653.5" y2="342.5" stroke="#D4B577" stroke-width="1.3" opacity="0.17"/><line x1="408.7" y1="362.5" x2="396.1" y2="361.5" stroke="#D4B577" stroke-width="1.3" opacity="0.22"/><line x1="407.8" y1="347.2" x2="390.2" y2="343.9" stroke="#D4B577" stroke-width="1.3" opacity="0.16"/><line x1="446.7" y1="362.9" x2="419.5" y2="360.3" stroke="#D4B577" stroke-width="1.3" opacity="0.14"/><line x1="702.0" y1="272.2" x2="711.8" y2="263.6" stroke="#D4B577" stroke-width="1.3" opacity="0.23"/><line x1="518.6" y1="300.0" x2="511.1" y2="288.3" stroke="#D4B577" stroke-width="1.3" opacity="0.33"/><line x1="632.1" y1="276.8" x2="647.4" y2="262.7" stroke="#D4B577" stroke-width="1.3" opacity="0.18"/><line x1="457.8" y1="325.1" x2="452.0" y2="321.0" stroke="#D4B577" stroke-width="1.3" opacity="0.31"/><line x1="468.1" y1="314.0" x2="457.6" y2="303.6" stroke="#D4B577" stroke-width="1.3" opacity="0.33"/><line x1="361.0" y1="314.0" x2="340.7" y2="306.9" stroke="#D4B577" stroke-width="1.3" opacity="0.20"/><line x1="361.6" y1="306.3" x2="347.6" y2="301.5" stroke="#D4B577" stroke-width="1.3" opacity="0.25"/><line x1="458.4" y1="254.1" x2="447.4" y2="246.3" stroke="#D4B577" stroke-width="1.3" opacity="0.25"/><line x1="635.7" y1="259.3" x2="651.0" y2="247.1" stroke="#D4B577" stroke-width="1.3" opacity="0.34"/><line x1="544.0" y1="272.3" x2="542.2" y2="264.8" stroke="#D4B577" stroke-width="1.3" opacity="0.25"/><line x1="354.3" y1="350.6" x2="342.0" y2="349.2" stroke="#D4B577" stroke-width="1.3" opacity="0.34"/><line x1="443.8" y1="358.9" x2="426.3" y2="356.6" stroke="#D4B577" stroke-width="1.3" opacity="0.29"/><line x1="330.3" y1="382.0" x2="304.9" y2="383.2" stroke="#D4B577" stroke-width="1.3" opacity="0.22"/><line x1="421.5" y1="284.7" x2="408.7" y2="275.8" stroke="#D4B577" stroke-width="1.3" opacity="0.20"/><line x1="509.5" y1="259.6" x2="510.5" y2="244.7" stroke="#D4B577" stroke-width="1.3" opacity="0.16"/><line x1="446.1" y1="296.5" x2="432.9" y2="286.9" stroke="#D4B577" stroke-width="1.3" opacity="0.16"/><line x1="404.7" y1="355.0" x2="388.1" y2="352.8" stroke="#D4B577" stroke-width="1.3" opacity="0.33"/><line x1="759.8" y1="332.8" x2="786.4" y2="328.1" stroke="#D4B577" stroke-width="1.3" opacity="0.31"/><line x1="353.9" y1="358.6" x2="333.1" y2="357.1" stroke="#D4B577" stroke-width="1.3" opacity="0.25"/><line x1="700.0" y1="373.4" x2="721.4" y2="373.5" stroke="#D4B577" stroke-width="1.3" opacity="0.20"/><line x1="634.6" y1="359.2" x2="647.4" y2="357.6" stroke="#D4B577" stroke-width="1.3" opacity="0.22"/><line x1="358.7" y1="349.2" x2="343.0" y2="347.2" stroke="#D4B577" stroke-width="1.3" opacity="0.22"/><line x1="564.9" y1="267.8" x2="563.0" y2="257.7" stroke="#D4B577" stroke-width="1.3" opacity="0.16"/><line x1="706.1" y1="351.4" x2="718.0" y2="350.0" stroke="#D4B577" stroke-width="1.3" opacity="0.18"/><line x1="377.6" y1="348.1" x2="364.0" y2="346.1" stroke="#D4B577" stroke-width="1.3" opacity="0.25"/><line x1="406.0" y1="305.1" x2="397.2" y2="300.6" stroke="#D4B577" stroke-width="1.3" opacity="0.26"/><line x1="392.7" y1="355.0" x2="382.1" y2="353.8" stroke="#D4B577" stroke-width="1.3" opacity="0.32"/><line x1="581.2" y1="256.6" x2="581.4" y2="242.6" stroke="#D4B577" stroke-width="1.3" opacity="0.35"/><line x1="616.8" y1="326.1" x2="633.9" y2="315.5" stroke="#D4B577" stroke-width="1.3" opacity="0.16"/></g>
<path d="M490.0,292.5 C492.7,291.2 500.8,291.7 511.0,292.3 C521.2,292.9 539.3,294.5 551.0,296.2 C562.7,297.9 571.9,299.6 581.0,302.3 C590.1,305.0 598.6,309.0 605.4,312.4 C612.2,315.8 616.5,318.4 621.6,322.5 C626.7,326.6 631.3,332.0 635.7,336.7 C640.1,341.4 644.5,345.8 647.9,350.8 C651.3,355.9 654.0,361.3 656.0,367.0 C658.0,372.7 659.3,378.7 660.0,385.0 C660.7,391.3 661.7,398.3 660.0,405.0 C658.3,411.7 655.0,419.2 650.0,425.0 C645.0,430.8 638.0,436.3 630.0,440.0 C622.0,443.7 609.3,447.0 602.0,447.0 C594.7,447.0 590.5,443.2 586.0,440.0 C581.5,436.8 580.8,430.7 575.0,428.0 C569.2,425.3 558.3,424.8 551.0,424.0 C543.7,423.2 537.2,422.5 531.0,423.0 C524.8,423.5 516.5,427.2 514.0,427.0 C511.5,426.8 515.0,425.0 516.0,422.0 C517.0,419.0 519.0,413.2 520.0,409.0 C521.0,404.8 521.0,399.7 522.0,397.0 C523.0,394.3 525.3,395.0 526.0,393.0 C526.7,391.0 527.0,387.7 526.0,385.0 C525.0,382.3 523.0,379.3 520.0,377.0 C517.0,374.7 509.8,376.0 508.0,371.0 C506.2,366.0 508.7,353.8 509.0,347.0 C509.3,340.2 510.8,336.2 510.0,330.0 C509.2,323.8 506.5,315.0 504.0,310.0 C501.5,305.0 497.3,302.9 495.0,300.0 C492.7,297.1 487.3,293.8 490.0,292.5Z" fill="#EDCB93"/>
<path d="M507.0,378.0 C504.5,377.1 499.2,374.0 492.0,372.8 C484.8,371.6 475.0,370.9 464.0,370.9 C453.0,370.9 437.1,373.1 426.0,372.8 C414.9,372.5 405.0,371.5 397.4,369.0 C389.8,366.5 385.0,362.0 380.3,357.6 C375.6,353.2 371.5,347.8 369.0,342.4 C366.5,337.0 365.2,331.3 365.2,325.3 C365.2,319.3 365.9,312.7 369.0,306.4 C372.1,300.1 377.7,293.4 384.0,287.4 C390.3,281.4 398.4,275.0 407.0,270.3 C415.6,265.6 425.8,262.1 435.3,259.0 C444.8,255.8 452.7,253.3 463.8,251.4 C474.9,249.5 489.1,248.2 501.7,247.6 C514.3,247.0 528.2,247.0 539.6,247.6 C551.0,248.2 559.6,249.3 570.0,251.4 C580.4,253.5 590.3,255.6 602.0,260.0 C613.7,264.4 630.0,272.8 640.0,278.0 C650.0,283.2 654.7,285.4 662.0,291.0 C669.3,296.6 677.8,304.6 684.0,311.6 C690.2,318.6 694.8,325.8 699.0,333.0 C703.2,340.2 707.3,347.4 709.5,354.6 C711.7,361.8 712.2,369.8 712.0,376.0 C711.8,382.2 710.3,387.3 708.0,391.6 C705.7,395.9 701.8,399.7 698.0,401.7 C694.2,403.7 689.5,403.8 685.3,403.6 C681.1,403.4 676.2,402.3 672.6,400.5 C669.0,398.7 665.3,394.2 663.8,392.9" fill="none" stroke="#A67520" stroke-width="2.1"/>
<path d="M433.0,329.0 C433.8,325.2 435.5,320.1 439.0,316.0 C442.5,311.9 446.7,307.9 454.0,304.5 C461.3,301.1 474.8,297.5 483.0,295.5 C491.2,293.5 498.5,292.1 503.0,292.5 C507.5,292.9 508.7,293.4 510.0,298.0 C511.3,302.6 511.0,313.0 511.0,320.0 C511.0,327.0 510.5,334.0 510.0,340.0 C509.5,346.0 508.7,351.2 508.0,356.0 C507.3,360.8 508.7,366.8 506.0,369.0 C503.3,371.2 499.0,370.3 492.0,369.0 C485.0,367.7 471.8,363.9 464.0,361.4 C456.2,358.9 450.0,357.7 445.0,354.0 C440.0,350.3 436.0,343.2 434.0,339.0 C432.0,334.8 432.2,332.8 433.0,329.0Z" fill="url(#ovg)" stroke="#A67520" stroke-width="1.5"/>
<path d="M490.0,292.5 C493.5,292.5 500.8,291.7 511.0,292.3 C521.2,292.9 539.3,294.5 551.0,296.2 C562.7,297.9 571.9,299.6 581.0,302.3 C590.1,305.0 598.6,309.0 605.4,312.4 C612.2,315.8 616.5,318.4 621.6,322.5 C626.7,326.6 631.3,332.0 635.7,336.7 C640.1,341.4 644.5,345.8 647.9,350.8 C651.3,355.9 654.6,364.3 656.0,367.0" fill="none" stroke="#A67520" stroke-width="1.6"/>
<linearGradient id="ldg" gradientUnits="userSpaceOnUse" x1="0" y1="345" x2="0" y2="362"><stop offset="0" stop-color="#EFD39E"/><stop offset="1" stop-color="#F2CB7E"/></linearGradient>
<path d="M581.0,302.3 C583.4,300.9 598.6,309.0 605.4,312.4 C612.2,315.8 616.5,318.4 621.6,322.5 C626.7,326.6 631.3,332.0 635.7,336.7 C640.1,341.4 644.5,345.9 647.9,350.8 C651.3,355.7 653.8,361.1 656.0,366.0 C658.2,370.9 659.7,375.3 661.0,380.0 C662.3,384.7 664.2,389.0 664.0,394.0 C663.8,399.0 662.2,404.8 660.0,410.0 C657.8,415.2 654.5,420.2 651.0,425.0 C647.5,429.8 643.5,435.0 639.0,439.0 C634.5,443.0 629.2,446.2 624.0,449.0 C618.8,451.8 613.7,453.7 608.0,456.0 C602.3,458.3 593.5,464.3 590.0,463.0 C586.5,461.7 586.5,450.4 587.0,448.0 C587.5,445.6 589.3,448.9 593.0,448.5 C596.7,448.1 603.8,447.6 609.0,445.5 C614.2,443.4 619.5,439.7 624.5,436.0 C629.5,432.3 634.8,428.2 639.0,423.5 C643.2,418.8 647.0,413.6 649.5,408.0 C652.0,402.4 653.5,395.5 654.0,390.0 C654.5,384.5 653.7,379.8 652.5,375.0 C651.3,370.2 649.1,365.8 647.0,361.0 C644.9,356.2 643.0,350.8 640.0,346.0 C637.0,341.2 633.7,335.7 629.0,332.0 C624.3,328.3 618.3,325.8 612.0,324.0 C605.7,322.2 596.2,324.6 591.0,321.0 C585.8,317.4 578.6,303.7 581.0,302.3Z" fill="url(#ldg)"/>
<line x1="595.2" y1="461.0" x2="591.7" y2="448.4" stroke="#C4861E" stroke-width="1.2"/><line x1="600.3" y1="459.0" x2="596.3" y2="447.9" stroke="#C4861E" stroke-width="1.2"/><line x1="605.5" y1="457.0" x2="600.9" y2="447.0" stroke="#C4861E" stroke-width="1.2"/><line x1="610.6" y1="454.9" x2="605.5" y2="446.2" stroke="#C4861E" stroke-width="1.2"/><line x1="615.6" y1="452.7" x2="610.0" y2="444.9" stroke="#C4861E" stroke-width="1.2"/><line x1="620.7" y1="450.4" x2="613.9" y2="442.5" stroke="#C4861E" stroke-width="1.2"/><line x1="625.6" y1="447.9" x2="617.9" y2="440.0" stroke="#C4861E" stroke-width="1.2"/><line x1="630.2" y1="444.9" x2="621.9" y2="437.6" stroke="#C4861E" stroke-width="1.2"/><line x1="634.8" y1="441.8" x2="625.8" y2="434.9" stroke="#C4861E" stroke-width="1.2"/><line x1="639.3" y1="438.6" x2="629.3" y2="431.9" stroke="#C4861E" stroke-width="1.2"/><line x1="642.9" y1="434.4" x2="632.9" y2="428.8" stroke="#C4861E" stroke-width="1.2"/><line x1="646.5" y1="430.2" x2="636.4" y2="425.7" stroke="#C4861E" stroke-width="1.2"/><line x1="650.1" y1="426.0" x2="639.7" y2="422.5" stroke="#C4861E" stroke-width="1.2"/><line x1="653.1" y1="421.4" x2="642.3" y2="418.6" stroke="#C4861E" stroke-width="1.2"/><line x1="656.0" y1="416.7" x2="645.0" y2="414.7" stroke="#C4861E" stroke-width="1.2"/><line x1="658.8" y1="411.9" x2="647.6" y2="410.8" stroke="#C4861E" stroke-width="1.2"/><line x1="660.8" y1="406.8" x2="649.8" y2="406.8" stroke="#C4861E" stroke-width="1.2"/><line x1="662.1" y1="401.5" x2="650.9" y2="402.2" stroke="#C4861E" stroke-width="1.2"/><line x1="663.5" y1="396.1" x2="652.1" y2="397.7" stroke="#C4861E" stroke-width="1.2"/><line x1="663.3" y1="390.7" x2="653.2" y2="393.1" stroke="#C4861E" stroke-width="1.2"/><line x1="662.1" y1="385.3" x2="653.9" y2="388.6" stroke="#C4861E" stroke-width="1.2"/><line x1="661.0" y1="379.9" x2="653.4" y2="383.9" stroke="#C4861E" stroke-width="1.2"/><line x1="659.1" y1="374.7" x2="652.9" y2="379.2" stroke="#C4861E" stroke-width="1.2"/><line x1="657.2" y1="369.5" x2="652.3" y2="374.6" stroke="#C4861E" stroke-width="1.2"/><line x1="655.1" y1="364.4" x2="650.6" y2="370.2" stroke="#C4861E" stroke-width="1.2"/><line x1="652.5" y1="359.5" x2="648.9" y2="365.9" stroke="#C4861E" stroke-width="1.2"/>
<path d="M581.0,302.3 C585.1,304.0 598.6,309.0 605.4,312.4 C612.2,315.8 616.5,318.4 621.6,322.5 C626.7,326.6 631.3,332.0 635.7,336.7 C640.1,341.4 644.5,345.9 647.9,350.8 C651.3,355.7 653.8,361.1 656.0,366.0 C658.2,370.9 659.7,375.3 661.0,380.0 C662.3,384.7 664.2,389.0 664.0,394.0 C663.8,399.0 662.2,404.8 660.0,410.0 C657.8,415.2 654.5,420.2 651.0,425.0 C647.5,429.8 643.5,435.0 639.0,439.0 C634.5,443.0 629.2,446.2 624.0,449.0 C618.8,451.8 613.7,453.7 608.0,456.0 C602.3,458.3 593.0,461.8 590.0,463.0" fill="none" stroke="#C07C1A" stroke-width="2"/>
<path d="M587.0,448.0 C588.0,448.1 589.3,448.9 593.0,448.5 C596.7,448.1 603.8,447.6 609.0,445.5 C614.2,443.4 619.5,439.7 624.5,436.0 C629.5,432.3 634.8,428.2 639.0,423.5 C643.2,418.8 647.0,413.6 649.5,408.0 C652.0,402.4 653.5,395.5 654.0,390.0 C654.5,384.5 653.7,379.8 652.5,375.0 C651.3,370.2 649.1,365.8 647.0,361.0 C644.9,356.2 643.0,350.8 640.0,346.0 C637.0,341.2 633.7,335.7 629.0,332.0 C624.3,328.3 618.3,325.8 612.0,324.0 C605.7,322.2 594.5,321.5 591.0,321.0" fill="none" stroke="#C07C1A" stroke-width="1.6"/>
<path d="M512.3,429.5 C512.8,427.6 517.9,422.4 521.0,419.0 C524.1,415.6 526.0,413.3 531.0,409.0 C536.0,404.7 544.3,398.0 551.0,393.0 C557.7,388.0 564.3,383.3 571.0,379.0 C577.7,374.7 584.8,370.3 591.0,367.0 C597.2,363.7 601.3,360.4 608.0,359.0 C614.7,357.6 625.2,357.7 631.0,358.5 C636.8,359.3 639.8,361.2 643.0,364.0 C646.2,366.8 648.9,370.7 650.4,375.0 C651.9,379.3 652.4,384.7 651.9,390.0 C651.4,395.3 649.9,401.4 647.4,406.7 C644.9,412.0 641.1,417.3 637.0,421.9 C632.9,426.4 627.8,430.5 623.0,434.0 C618.2,437.5 613.0,441.0 608.0,443.0 C603.0,445.0 597.3,445.8 593.0,446.0 C588.7,446.2 585.0,445.8 582.0,444.0 C579.0,442.2 580.2,437.7 575.0,435.5 C569.8,433.3 558.3,431.9 551.0,431.0 C543.7,430.1 536.5,430.1 531.0,430.0 C525.5,429.9 521.1,430.6 518.0,430.5 C514.9,430.4 511.8,431.4 512.3,429.5Z" fill="#F4A1A2" stroke="#D27066" stroke-width="1.5"/>
<path d="M508.5,343.0 L524.5,343.0 L523.5,360.0 L523.0,376.0 L514.0,381.0 L505.0,370.0 L507.5,370.0 L508.0,357.0Z" fill="#E4BE80"/>
<path d="M514.0,381.0 L523.0,376.0 L526.0,383.7 L526.8,391.0 L521.5,397.0 L520.0,411.0 L517.0,423.0 L513.0,429.0 L512.0,428.0 L514.0,417.0 L515.5,396.0Z" fill="#F4E0B6"/>
<path d="M508.5,343.0 C508.8,340.9 508.9,334.4 510.2,330.6 C511.5,326.9 512.9,323.9 516.3,320.5 C519.7,317.1 524.8,313.4 530.5,310.4 C536.2,307.4 544.0,304.2 550.7,302.3 C557.5,300.4 564.5,299.2 571.0,299.2 C577.5,299.1 586.8,301.5 590.0,302.0" fill="none" stroke="#A67520" stroke-width="1.8" stroke-linecap="round" stroke-linejoin="round"/>
<path d="M524.5,343.0 C525.5,341.9 526.8,339.1 530.5,336.7 C534.2,334.3 540.0,331.0 546.7,328.6 C553.5,326.2 563.6,323.9 571.0,322.5 C578.4,321.1 584.5,320.5 591.2,320.5 C597.9,320.5 605.3,321.1 611.4,322.5 C617.5,323.9 623.2,325.9 627.6,328.6 C632.0,331.3 634.8,335.1 637.7,338.7 C640.6,342.3 643.8,348.1 645.0,350.0" fill="none" stroke="#A67520" stroke-width="1.8" stroke-linecap="round" stroke-linejoin="round"/>
<path d="M508.5,343.0 C508.4,345.3 508.2,352.5 508.0,357.0 C507.8,361.5 507.6,367.8 507.5,370.0" fill="none" stroke="#A67520" stroke-width="1.8" stroke-linecap="round" stroke-linejoin="round"/>
<path d="M524.5,343.0 C524.3,345.8 523.8,354.5 523.5,360.0 C523.2,365.5 522.6,372.1 523.0,376.0 C523.4,379.9 525.4,381.2 526.0,383.7 C526.6,386.2 527.5,388.8 526.8,391.0 C526.0,393.2 522.6,393.7 521.5,397.0 C520.4,400.3 520.8,406.7 520.0,411.0 C519.2,415.3 518.2,420.0 517.0,423.0 C515.8,426.0 513.7,428.0 513.0,429.0" fill="none" stroke="#A67520" stroke-width="1.8" stroke-linecap="round" stroke-linejoin="round"/>
<path d="M508.5,343.0 C511.2,343.0 521.8,343.0 524.5,343.0" fill="none" stroke="#A67520" stroke-width="1.8" stroke-linecap="round" stroke-linejoin="round"/>
<path d="M493.0,364.0 C495.0,365.0 501.5,367.2 505.0,370.0 C508.5,372.8 512.2,376.7 514.0,381.0 C515.8,385.3 515.5,390.0 515.5,396.0 C515.5,402.0 514.6,411.7 514.0,417.0 C513.4,422.3 512.3,426.2 512.0,428.0" fill="none" stroke="#A67520" stroke-width="1.8" stroke-linecap="round" stroke-linejoin="round"/>
<path d="M638.0,220.6 C636.2,220.6 632.6,221.4 627.0,220.6 C621.4,219.8 609.7,216.4 604.4,216.0 C599.1,215.6 597.2,219.6 595.3,218.3 C593.4,217.0 595.3,211.6 593.0,208.0 C590.7,204.4 586.5,200.0 581.6,196.8 C576.7,193.6 571.1,190.9 563.5,188.8 C555.9,186.7 546.4,185.1 536.2,184.3 C526.0,183.6 513.6,183.6 502.2,184.3 C490.8,185.1 479.4,186.4 468.0,188.8 C456.6,191.2 445.3,195.0 434.0,199.0 C422.7,203.0 409.0,209.5 400.0,212.7 C391.0,215.8 386.7,214.7 380.0,217.9 C373.3,221.1 366.0,227.4 359.7,231.8 C353.4,236.2 346.6,240.6 342.0,244.4 C337.4,248.2 335.4,250.3 332.0,254.5 C328.6,258.7 324.8,263.8 321.8,269.7 C318.8,275.6 315.6,283.3 314.0,290.0 C312.4,296.7 311.5,301.5 312.0,310.0 C312.5,318.5 312.8,331.6 317.0,341.0 C321.2,350.4 327.3,358.0 337.0,366.5 C346.7,375.0 364.5,386.9 375.0,392.0 C385.5,397.1 390.8,397.0 400.0,397.0 C409.2,397.0 422.3,394.2 430.0,392.0 C437.7,389.8 443.3,385.3 446.0,384.0" fill="none" stroke="#A67520" stroke-width="2.0" stroke-linecap="round" stroke-linejoin="round"/>
<path d="M454.5,170.7 C454.8,172.4 456.9,177.3 456.5,180.9 C456.1,184.5 452.9,190.3 452.2,192.2" fill="none" stroke="#A67520" stroke-width="2.0" stroke-linecap="round" stroke-linejoin="round"/>
<path d="M556.7,140.0 C557.2,142.7 560.0,150.6 560.0,155.9 C560.0,161.2 559.5,167.1 556.7,171.8 C553.9,176.5 545.3,182.2 543.0,184.3" fill="none" stroke="#A67520" stroke-width="2.0" stroke-linecap="round" stroke-linejoin="round"/>
<path d="M380.0,195.0 C380.2,197.2 381.0,204.4 381.0,208.0 C381.0,211.6 380.2,215.2 380.0,216.6" fill="none" stroke="#A67520" stroke-width="2.0" stroke-linecap="round" stroke-linejoin="round"/>
<path d="M315.5,207.8 C317.4,209.7 323.9,214.6 326.8,219.0 C329.7,223.4 332.1,228.8 333.0,234.3 C333.9,239.8 332.2,249.1 332.0,252.0" fill="none" stroke="#A67520" stroke-width="2.0" stroke-linecap="round" stroke-linejoin="round"/>
<path d="M286.5,284.3 C288.8,284.5 295.6,285.5 300.0,285.5 C304.4,285.5 310.8,284.5 313.0,284.3" fill="none" stroke="#A67520" stroke-width="2.0" stroke-linecap="round" stroke-linejoin="round"/>
<path d="M425.0,244.4 C430.3,242.9 445.8,237.9 456.8,235.4 C467.8,232.9 477.6,231.4 490.8,229.7 C504.0,228.0 522.6,225.9 536.2,225.2 C549.8,224.4 566.5,225.2 572.6,225.2" fill="none" stroke="#A67520" stroke-width="2.0" stroke-linecap="round" stroke-linejoin="round"/>
<path d="M251.0,199.0 C252.2,202.8 257.2,217.9 258.5,221.7" fill="none" stroke="#A67520" stroke-width="2.0" stroke-linecap="round" stroke-linejoin="round"/>
<path d="M233.0,254.0 C233.9,257.6 233.7,268.1 238.4,275.4 C243.1,282.7 254.7,289.1 261.0,298.0 C267.3,306.9 272.1,321.3 276.4,328.5 C280.6,335.7 281.4,334.7 286.5,341.0 C291.6,347.3 297.4,358.9 306.7,366.5 C315.9,374.1 336.1,383.3 342.0,386.7" fill="none" stroke="#A67520" stroke-width="2.0" stroke-linecap="round" stroke-linejoin="round"/>
<path d="M228.0,338.7 C230.6,342.5 238.0,356.3 243.5,361.4 C249.0,366.4 254.2,363.5 261.0,369.0 C267.8,374.5 280.2,390.1 284.0,394.3" fill="none" stroke="#A67520" stroke-width="2.0" stroke-linecap="round" stroke-linejoin="round"/>
<path d="M210.6,370.3 C214.7,369.6 229.5,366.6 235.0,366.0 C240.5,365.4 242.1,366.4 243.5,366.5" fill="none" stroke="#A67520" stroke-width="2.0" stroke-linecap="round" stroke-linejoin="round"/>
<path d="M178.0,390.0 C182.6,393.1 195.8,403.3 205.4,408.4 C215.0,413.5 223.1,417.0 235.7,420.5 C248.3,424.0 263.3,428.4 281.0,429.6 C298.7,430.9 321.5,428.5 341.7,428.0 C361.9,427.5 385.6,426.1 402.0,426.6 C418.4,427.1 431.7,430.8 440.0,431.0 C448.3,431.2 448.2,429.8 452.0,428.0 C455.8,426.2 460.2,425.3 462.8,420.5 C465.4,415.7 466.6,402.9 467.3,399.4" fill="none" stroke="#A67520" stroke-width="2.0" stroke-linecap="round" stroke-linejoin="round"/>
<path d="M241.7,402.4 C243.2,404.9 249.3,415.0 250.8,417.5" fill="none" stroke="#A67520" stroke-width="2.0" stroke-linecap="round" stroke-linejoin="round"/>
<path d="M237.2,446.3 C239.0,448.6 246.0,457.7 247.8,460.0" fill="none" stroke="#A67520" stroke-width="2.0" stroke-linecap="round" stroke-linejoin="round"/>
<path d="M479.0,433.7 C481.3,432.4 488.7,427.8 493.0,426.0 C497.3,424.2 502.2,425.5 505.0,423.0 C507.8,420.5 508.5,416.0 509.5,411.0 C510.5,406.0 511.2,398.0 511.0,393.0 C510.8,388.0 509.8,384.3 508.0,381.0 C506.2,377.7 503.0,374.5 500.0,373.0 C497.0,371.5 491.7,372.2 490.0,372.0" fill="none" stroke="#A67520" stroke-width="2.0" stroke-linecap="round" stroke-linejoin="round"/>
<path d="M696.9,120.2 C697.6,123.6 701.0,133.1 701.0,140.5 C701.0,147.9 699.3,156.6 696.9,164.7 C694.5,172.8 690.8,181.9 686.8,189.0 C682.8,196.1 677.7,202.5 672.6,207.2 C667.5,211.9 661.8,214.9 656.4,217.3 C651.0,219.7 644.3,220.7 640.2,221.4 C636.1,222.1 633.4,221.4 632.0,221.4" fill="none" stroke="#8E5FB0" stroke-width="1.5" stroke-linecap="round" stroke-linejoin="round"/>
<path d="M672.6,207.2 C675.0,209.2 682.1,215.0 686.8,219.4 C691.5,223.8 697.5,229.1 700.9,233.5 C704.3,237.9 705.6,241.3 707.0,245.7 C708.4,250.1 708.7,255.6 709.5,260.0 C710.3,264.4 711.2,270.0 711.6,272.0" fill="none" stroke="#8E5FB0" stroke-width="1.5" stroke-linecap="round" stroke-linejoin="round"/>
<path d="M700.9,233.5 C704.3,232.8 712.8,230.7 721.2,229.5 C729.6,228.3 741.7,227.2 751.5,226.4 C761.3,225.6 775.1,224.7 779.8,224.4" fill="none" stroke="#8E5FB0" stroke-width="1.5" stroke-linecap="round" stroke-linejoin="round"/>
<path d="M673.0,275.1 C676.6,274.6 688.0,272.2 694.4,271.9 C700.8,271.5 706.2,270.7 711.6,273.0 C717.0,275.3 722.4,280.5 726.7,285.9 C731.0,291.3 734.9,299.1 737.4,305.2 C739.9,311.3 741.7,316.3 741.7,322.4 C741.7,328.5 738.1,338.5 737.4,341.7" fill="none" stroke="#8E5FB0" stroke-width="1.5" stroke-linecap="round" stroke-linejoin="round"/>
<path d="M756.7,280.5 C758.5,281.8 763.5,287.8 767.5,288.0 C771.5,288.2 778.2,282.7 780.4,281.6" fill="none" stroke="#8E5FB0" stroke-width="1.5" stroke-linecap="round" stroke-linejoin="round"/>
<path d="M767.5,288.0 C767.5,289.8 767.5,296.9 767.5,298.7" fill="none" stroke="#8E5FB0" stroke-width="1.5" stroke-linecap="round" stroke-linejoin="round"/>
<path d="M774.0,362.5 C778.3,362.8 792.3,362.8 800.0,364.0 C807.7,365.2 813.2,367.5 820.0,370.0 C826.8,372.5 835.7,376.0 841.0,379.0 C846.3,382.0 849.0,385.0 852.0,388.0 C855.0,391.0 857.5,393.3 859.0,397.0 C860.5,400.7 860.8,406.2 861.0,410.0 C861.2,413.8 861.5,416.3 860.0,420.0 C858.5,423.7 855.3,428.2 852.0,432.0 C848.7,435.8 842.0,441.2 840.0,443.0" fill="none" stroke="#4F7420" stroke-width="1.7" stroke-linecap="round" stroke-linejoin="round"/>
<path d="M846.0,384.0 C851.7,384.3 869.3,385.3 880.0,386.0 C890.7,386.7 900.9,387.5 910.0,388.0 C919.1,388.5 930.7,388.8 934.8,389.0" fill="none" stroke="#4F7420" stroke-width="1.7" stroke-linecap="round" stroke-linejoin="round"/>
<path d="M859.0,397.0 C860.8,394.2 866.5,385.8 870.0,380.0 C873.5,374.2 877.2,367.2 880.0,362.0 C882.8,356.8 885.6,350.8 886.7,348.5" fill="none" stroke="#4F7420" stroke-width="1.7" stroke-linecap="round" stroke-linejoin="round"/>
<path d="M899.0,346.0 C900.0,343.7 902.4,337.1 905.0,332.0 C907.6,326.9 912.9,318.3 914.5,315.6" fill="none" stroke="#4F7420" stroke-width="1.7" stroke-linecap="round" stroke-linejoin="round"/>
<path d="M851.0,351.0 C852.2,347.5 855.5,336.5 858.0,330.0 C860.5,323.5 863.3,317.6 866.0,312.0 C868.7,306.4 872.7,299.2 874.0,296.7" fill="none" stroke="#4F7420" stroke-width="1.7" stroke-linecap="round" stroke-linejoin="round"/>
<path d="M861.0,422.0 C863.8,422.8 872.7,425.6 878.0,427.0 C883.3,428.4 888.5,428.3 893.0,430.6 C897.5,432.9 901.2,437.6 905.0,441.0 C908.8,444.4 914.2,449.3 916.0,451.0" fill="none" stroke="#4F7420" stroke-width="1.7" stroke-linecap="round" stroke-linejoin="round"/>
<path d="M893.0,430.6 C894.5,428.8 899.8,424.3 902.0,420.0 C904.2,415.7 905.0,410.3 906.0,405.0 C907.0,399.7 907.7,390.8 908.0,388.0" fill="none" stroke="#4F7420" stroke-width="1.7" stroke-linecap="round" stroke-linejoin="round"/>
<path d="M788.0,466.0 C788.6,468.1 789.1,475.3 791.8,478.7 C794.5,482.1 796.8,484.3 804.4,486.2 C812.0,488.1 831.8,489.4 837.3,490.0" fill="none" stroke="#4F7420" stroke-width="1.7" stroke-linecap="round" stroke-linejoin="round"/>
<path d="M812.0,509.0 C815.4,509.4 826.0,511.1 832.3,511.5 C838.6,511.9 847.0,511.5 850.0,511.5" fill="none" stroke="#4F7420" stroke-width="1.7" stroke-linecap="round" stroke-linejoin="round"/>
<path d="M741.0,395.2 C740.6,396.9 739.1,403.6 738.7,405.3" fill="none" stroke="#4F7420" stroke-width="1.7" stroke-linecap="round" stroke-linejoin="round"/>
<path d="M398.7,490.3 C402.4,488.9 415.2,484.9 420.9,482.2 C426.6,479.5 429.0,476.9 433.0,474.2 C437.0,471.5 439.0,468.7 445.0,466.0 C451.0,463.3 461.5,461.2 469.0,458.0 C476.5,454.8 483.7,451.2 490.0,447.0 C496.3,442.8 504.2,435.3 507.0,433.0" fill="none" stroke="#4A889C" stroke-width="1.7" stroke-linecap="round" stroke-linejoin="round"/>
<path d="M418.5,465.8 C422.7,465.8 439.6,465.8 443.8,465.8" fill="none" stroke="#4A889C" stroke-width="1.7" stroke-linecap="round" stroke-linejoin="round"/>
<path d="M431.0,498.4 C431.7,500.8 432.3,507.9 435.0,512.6 C437.7,517.3 442.1,522.7 447.2,526.7 C452.3,530.8 458.3,533.9 465.4,536.9 C472.5,539.9 480.6,543.5 489.7,545.0 C498.8,546.5 512.5,546.9 520.0,546.0 C527.5,545.1 527.0,541.0 534.4,539.6 C541.8,538.2 554.0,539.2 564.4,537.4 C574.8,535.6 586.0,531.7 596.7,528.8 C607.5,525.9 620.3,523.4 628.9,520.2 C637.5,517.0 643.9,512.7 648.2,509.5 C652.5,506.3 650.8,502.7 654.7,500.9 C658.7,499.1 664.4,499.4 671.9,498.7 C679.4,498.0 688.5,498.7 700.0,496.6 C711.5,494.5 727.0,489.8 741.0,486.0 C755.0,482.2 776.8,475.7 784.0,473.6" fill="none" stroke="#4A889C" stroke-width="1.7" stroke-linecap="round" stroke-linejoin="round"/>
<path d="M489.7,545.0 C489.0,546.7 489.0,551.7 485.6,555.1 C482.2,558.5 475.5,562.5 469.4,565.2 C463.3,567.9 455.9,569.9 449.2,571.2 C442.5,572.6 432.4,572.9 429.0,573.3" fill="none" stroke="#4A889C" stroke-width="1.7" stroke-linecap="round" stroke-linejoin="round"/>
<path d="M485.6,577.3 C487.6,578.3 493.4,582.7 497.8,583.4 C502.2,584.1 506.3,582.3 512.0,581.4 C517.7,580.5 523.5,579.4 532.2,578.2 C540.9,577.0 554.0,575.8 564.4,574.0 C574.8,572.2 583.8,569.7 594.5,567.5 C605.2,565.3 617.8,563.1 628.9,561.0 C640.0,558.9 652.1,557.8 661.1,554.6 C670.1,551.4 676.1,544.2 682.6,541.7 C689.1,539.2 690.3,541.7 700.0,539.6 C709.7,537.5 722.8,533.7 741.0,529.0 C759.2,524.3 798.1,514.4 809.5,511.5" fill="none" stroke="#4A889C" stroke-width="1.7" stroke-linecap="round" stroke-linejoin="round"/>
<path d="M489.7,593.5 C492.4,592.5 503.2,588.4 505.9,587.4" fill="none" stroke="#4A889C" stroke-width="1.7" stroke-linecap="round" stroke-linejoin="round"/>
<path d="M479.6,508.5 C483.3,508.9 494.8,511.9 501.8,510.6 C508.8,509.3 517.1,503.6 521.5,500.9 C525.9,498.2 526.8,495.5 527.9,494.4" fill="none" stroke="#4A889C" stroke-width="1.7" stroke-linecap="round" stroke-linejoin="round"/>
<path d="M512.9,488.0 C517.9,488.0 535.1,489.4 543.0,488.0 C550.9,486.6 556.3,481.9 560.2,479.4 C564.1,476.9 565.9,477.3 566.6,473.0 C567.3,468.7 564.8,456.8 564.4,453.6" fill="none" stroke="#4A889C" stroke-width="1.7" stroke-linecap="round" stroke-linejoin="round"/>
<path d="M566.6,473.0 C569.1,472.6 578.4,472.6 581.6,470.8 C584.8,469.0 585.3,465.4 586.0,462.2 C586.7,459.0 586.0,453.3 586.0,451.5" fill="none" stroke="#4A889C" stroke-width="1.7" stroke-linecap="round" stroke-linejoin="round"/>
<path d="M675.2,424.5 C679.0,423.6 691.0,421.9 698.0,419.4 C705.0,416.9 711.7,412.4 717.0,409.3 C722.3,406.2 725.6,403.2 729.6,400.5 C733.6,397.8 739.1,394.2 741.0,392.9" fill="none" stroke="#4A889C" stroke-width="1.7" stroke-linecap="round" stroke-linejoin="round"/>
<path d="M690.6,463.5 C696.9,462.6 718.0,460.3 728.5,458.4 C739.0,456.5 749.6,453.1 753.8,452.0" fill="none" stroke="#4A889C" stroke-width="1.7" stroke-linecap="round" stroke-linejoin="round"/>
<path d="M700.7,478.7 C705.3,476.2 723.9,466.0 728.5,463.5" fill="none" stroke="#4A889C" stroke-width="1.7" stroke-linecap="round" stroke-linejoin="round"/>
<line x1="331.5" y1="43.5" x2="500.8" y2="136.6" stroke="#262626" stroke-width="1.3"/>
<line x1="541.4" y1="62.6" x2="621" y2="147.3" stroke="#262626" stroke-width="1.3"/>
<line x1="686" y1="63.2" x2="607.7" y2="235" stroke="#262626" stroke-width="1.3"/>
<line x1="210.7" y1="95.3" x2="539" y2="321" stroke="#262626" stroke-width="1.3"/>
<line x1="798.7" y1="114" x2="725.3" y2="182.5" stroke="#262626" stroke-width="1.3"/>
<line x1="185.5" y1="167.2" x2="430" y2="285.8" stroke="#262626" stroke-width="1.3"/>
<line x1="938" y1="215.8" x2="826.5" y2="268.5" stroke="#262626" stroke-width="1.3"/>
<line x1="966.4" y1="292.4" x2="841" y2="319.4" stroke="#262626" stroke-width="1.3"/>
<line x1="972" y1="392.9" x2="934" y2="389" stroke="#262626" stroke-width="1.3"/>
<line x1="964.5" y1="470.6" x2="828.5" y2="415.6" stroke="#262626" stroke-width="1.3"/>
<line x1="342.6" y1="531.5" x2="532.4" y2="449.3" stroke="#262626" stroke-width="1.3"/>
<line x1="588" y1="419" x2="502.2" y2="621" stroke="#262626" stroke-width="1.3"/>
<line x1="688.6" y1="476" x2="716.4" y2="592" stroke="#262626" stroke-width="1.3"/>
<line x1="638.5" y1="537" x2="643.6" y2="660" stroke="#262626" stroke-width="1.3"/>
<text transform="translate(211.5,32.3) scale(1.04,1)">Superior frontal gyrus</text>
<text transform="translate(473.3,49.6) scale(1.04,1)">Paracentral lobule</text>
<text transform="translate(698.4,67.4) scale(1.04,1)">Cingulate gyrus</text>
<text transform="translate(178.2,84.5) scale(1.04,1)">Fornix</text>
<text transform="translate(809.4,120.7) scale(1.04,1)">Precuneus</text>
<text transform="translate(15.0,174.3) scale(1.04,1)">Corpus callosum</text>
<text transform="translate(948.2,223.4) scale(1.04,1)">Parieto-occipital</text>
<text transform="translate(948.2,247.6) scale(1.04,1)">fissure</text>
<text transform="translate(977.4,301.9) scale(1.04,1)">Cuneus</text>
<text transform="translate(983.1,403.1) scale(1.04,1)">Calcarine fissure</text>
<text transform="translate(976.3,481.2) scale(1.04,1)">Lingual gyrus</text>
<text transform="translate(272.9,542.7) scale(1.04,1)">Uncus</text>
<text transform="translate(685.8,623.7) scale(1.04,1)">Parahippocampal gyrus</text>
<text transform="translate(417.6,648) scale(1.04,1)">Cut diencephalon</text>
<text transform="translate(562.0,689.3) scale(1.04,1)">Fusiform (medial</text>
<text transform="translate(562.0,713.6) scale(1.04,1)">occipitotemporal) gyrus</text>
<text transform="translate(113.8,691.7) scale(1.04,1)">Temporal</text>
<text transform="translate(113.8,717.3) scale(1.04,1)">lobe</text>
<text transform="translate(113.8,755.2) scale(1.04,1)">Parietal</text>
<text transform="translate(113.8,779.6) scale(1.04,1)">lobe</text>
<text transform="translate(352.0,691.8) scale(1.04,1)">Frontal</text>
<text transform="translate(352.0,715.3) scale(1.04,1)">lobe</text>
<text transform="translate(350.6,755.2) scale(1.04,1)">Occipital</text>
<text transform="translate(350.6,779.6) scale(1.04,1)">lobe</text>
<rect x="18.5" y="668.8" width="89.1" height="47.8" fill="url(#bhl)"/>
<path d="M18.5,668.8 H107.6 V716.6 H18.5 Z" fill="none" stroke="#2E8AB5" stroke-width="1.8"/>
<rect x="103" y="668.8" width="4.6" height="47.8" fill="#2E8AB5"/><rect x="18.5" y="713.2" width="89.1" height="3.4" fill="#2E8AB5"/>
<rect x="18.4" y="736.2" width="89" height="48" fill="url(#phl)"/><rect x="18.4" y="736.2" width="89" height="48" fill="url(#pdots)"/>
<path d="M18.4,736.2 H107.4 V784.2 H18.4 Z" fill="none" stroke="#8A5CB8" stroke-width="1.8"/>
<rect x="102.8" y="736.2" width="4.6" height="48" fill="#8A5CB8"/><rect x="18.4" y="780.8" width="89" height="3.4" fill="#8A5CB8"/>
<rect x="253.9" y="666.2" width="84.8" height="47.2" fill="#ECCA92" stroke="#B47A28" stroke-width="1.8"/>
<rect x="253.9" y="736.1" width="84.8" height="49.5" fill="url(#gsp)" stroke="#5E8A2A" stroke-width="1.8"/>
<rect x="253.9" y="781.5" width="84.8" height="4.1" fill="#5E8A2A"/>
</svg>
</body></html>
